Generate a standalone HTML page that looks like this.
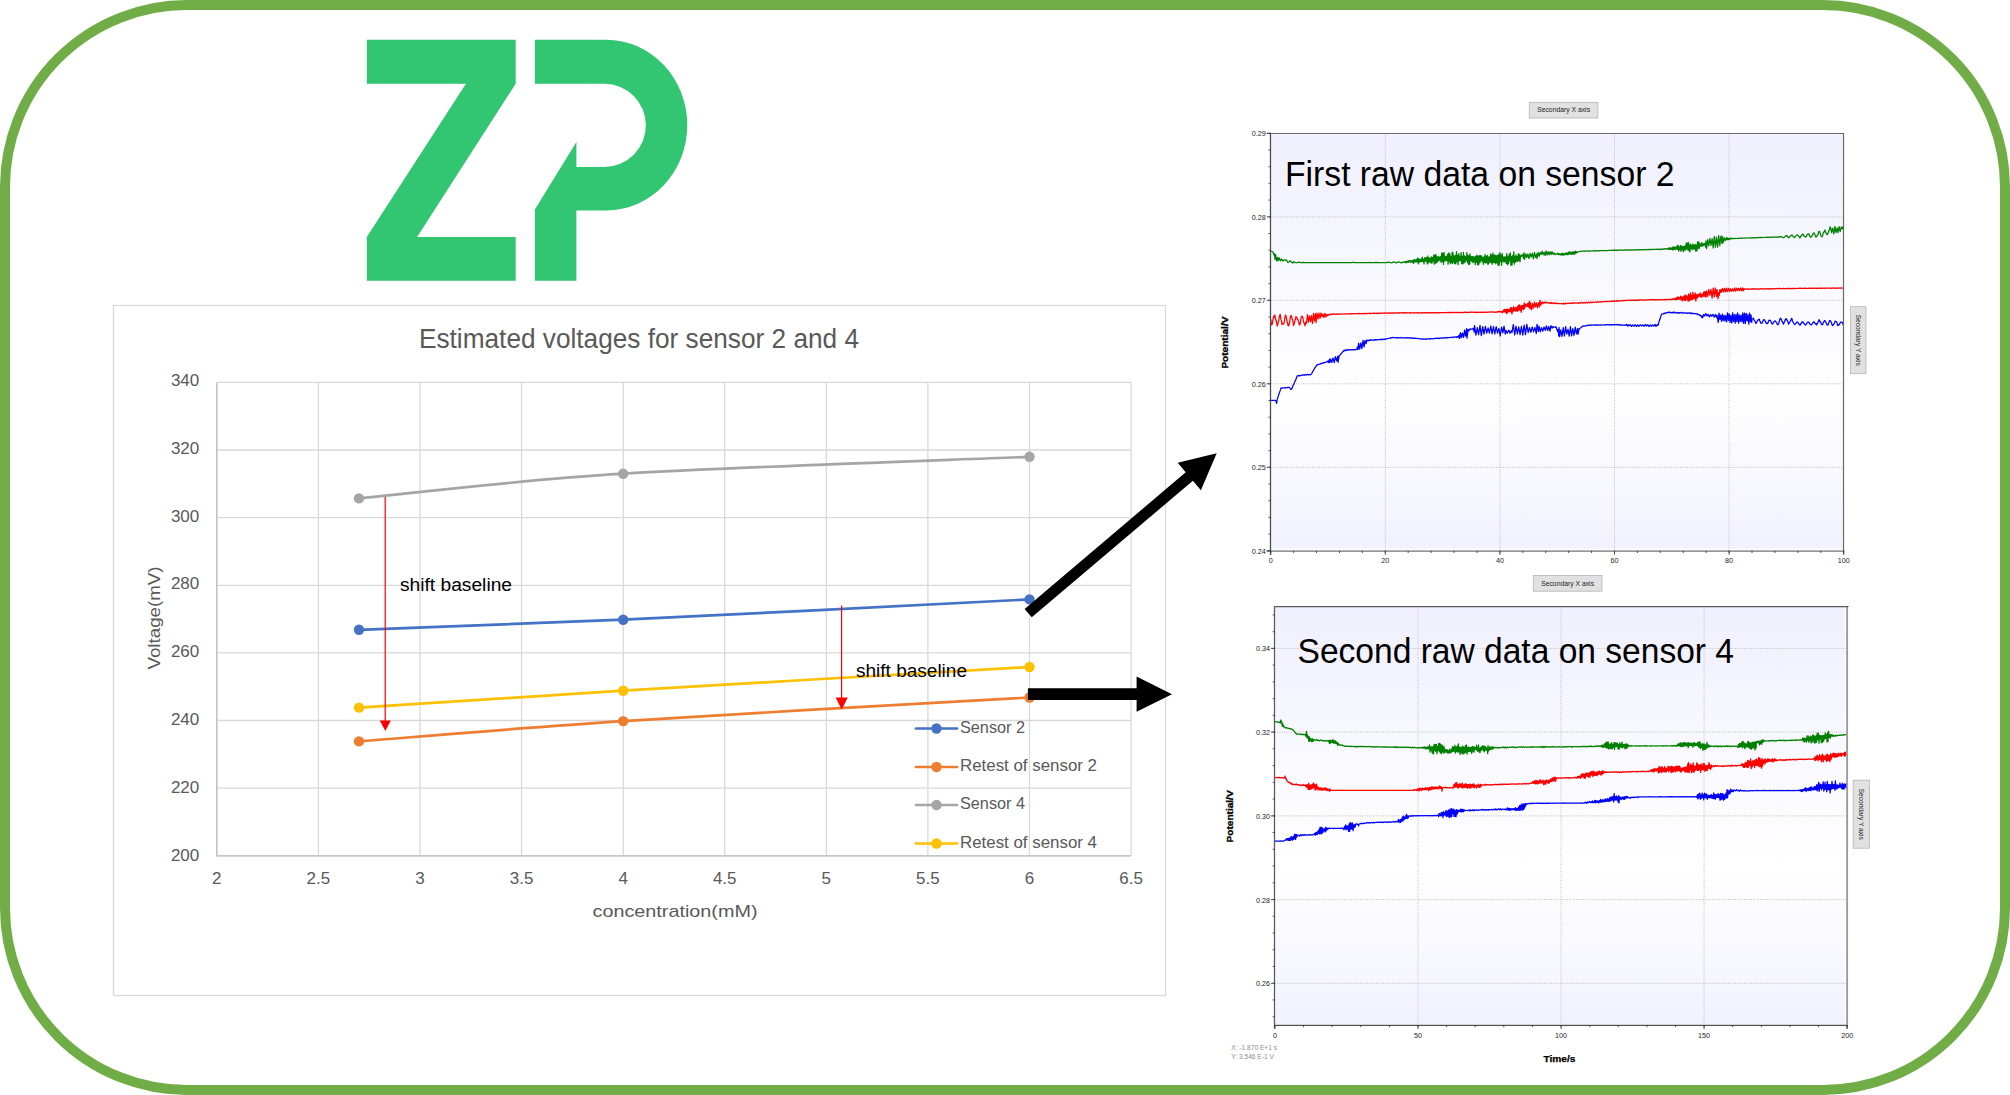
<!DOCTYPE html>
<html lang="en"><head><meta charset="utf-8"><title>Estimated voltages for sensor 2 and 4</title>
<style>html,body{margin:0;padding:0;background:#fff;}body{width:2010px;height:1095px;overflow:hidden;}svg{display:block;font-family:"Liberation Sans",sans-serif;}</style>
</head><body>
<svg width="2010" height="1095" viewBox="0 0 2010 1095">
<defs>
<linearGradient id="pg" x1="0" y1="0" x2="0" y2="1"><stop offset="0" stop-color="#f0f0fe"/><stop offset="0.62" stop-color="#ffffff"/><stop offset="1" stop-color="#f2f2fe"/></linearGradient>
</defs>
<rect width="2010" height="1095" fill="#fff"/>
<rect x="5" y="5" width="2000" height="1085" rx="182" ry="182" fill="none" stroke="#70AD47" stroke-width="10"/>
<g fill="#32C572">
<path d="M366.8 39.8H515.7V83.7L417.1 237.1H515.7V280.7H366.8V237.1L465.9 83.7H366.8Z"/>
<path d="M534.9 39.8H606.4A80.9 85.3 0 0 1 606.4 210.4H576.4V280.7H534.9V209.4L576.4 142.1V167H604.5A41.4 41.65 0 0 0 604.5 83.7H534.9Z"/>
</g>
<rect x="113.5" y="305.5" width="1052.0" height="690.0" fill="#fff" stroke="#D9D9D9" stroke-width="1.3"/>
<path d="M216.8 382.4V855.8M318.4 382.4V855.8M420 382.4V855.8M521.6 382.4V855.8M623.2 382.4V855.8M724.7 382.4V855.8M826.3 382.4V855.8M927.9 382.4V855.8M1029.5 382.4V855.8M1131.1 382.4V855.8M216.8 382.4H1131.1M216.8 450H1131.1M216.8 517.7H1131.1M216.8 585.3H1131.1M216.8 652.9H1131.1M216.8 720.5H1131.1M216.8 788.2H1131.1M216.8 855.8H1131.1" stroke="#D9D9D9" stroke-width="1.3" fill="none"/>
<path d="M216.8 382.4V855.8H1131.1" stroke="#BFBFBF" stroke-width="1.3" fill="none"/>
<text x="639" y="348.1" font-size="26.8" fill="#595959" text-anchor="middle" textLength="440" lengthAdjust="spacingAndGlyphs">Estimated voltages for sensor 2 and 4</text>
<g font-size="17" fill="#595959" text-anchor="end">
<text x="199.3" y="385.8" textLength="28.4" lengthAdjust="spacingAndGlyphs">340</text>
<text x="199.3" y="453.6" textLength="28.4" lengthAdjust="spacingAndGlyphs">320</text>
<text x="199.3" y="521.5" textLength="28.4" lengthAdjust="spacingAndGlyphs">300</text>
<text x="199.3" y="589.3" textLength="28.4" lengthAdjust="spacingAndGlyphs">280</text>
<text x="199.3" y="657.2" textLength="28.4" lengthAdjust="spacingAndGlyphs">260</text>
<text x="199.3" y="725" textLength="28.4" lengthAdjust="spacingAndGlyphs">240</text>
<text x="199.3" y="792.8" textLength="28.4" lengthAdjust="spacingAndGlyphs">220</text>
<text x="199.3" y="860.7" textLength="28.4" lengthAdjust="spacingAndGlyphs">200</text>
</g>
<g font-size="17" fill="#595959" text-anchor="middle">
<text x="216.8" y="884.2">2</text>
<text x="318.4" y="884.2">2.5</text>
<text x="420" y="884.2">3</text>
<text x="521.6" y="884.2">3.5</text>
<text x="623.2" y="884.2">4</text>
<text x="724.7" y="884.2">4.5</text>
<text x="826.3" y="884.2">5</text>
<text x="927.9" y="884.2">5.5</text>
<text x="1029.5" y="884.2">6</text>
<text x="1131.1" y="884.2">6.5</text>
</g>
<text x="675" y="917" font-size="17" fill="#595959" text-anchor="middle" textLength="165" lengthAdjust="spacingAndGlyphs">concentration(mM)</text>
<text transform="translate(159.5 618) rotate(-90)" font-size="17" fill="#595959" text-anchor="middle" textLength="103" lengthAdjust="spacingAndGlyphs">Voltage(mV)</text>
<path d="M359 498.4C403 494.3 511.4 480.6 623.2 473.7C734.9 466.8 961.8 459.6 1029.5 456.8" stroke="#A5A5A5" stroke-width="2.7" fill="none" stroke-linecap="round"/>
<circle cx="359" cy="498.4" r="5.2" fill="#A5A5A5"/>
<circle cx="623.2" cy="473.7" r="5.2" fill="#A5A5A5"/>
<circle cx="1029.5" cy="456.8" r="5.2" fill="#A5A5A5"/>
<path d="M359 629.8C403 628.2 511.4 624.8 623.2 619.7C734.9 614.6 961.8 602.8 1029.5 599.4" stroke="#4472C4" stroke-width="2.7" fill="none" stroke-linecap="round"/>
<circle cx="359" cy="629.8" r="5.2" fill="#4472C4"/>
<circle cx="623.2" cy="619.7" r="5.2" fill="#4472C4"/>
<circle cx="1029.5" cy="599.4" r="5.2" fill="#4472C4"/>
<path d="M359 707.6C403 704.8 511.4 697.5 623.2 690.7C734.9 683.9 961.8 671 1029.5 667" stroke="#FFC000" stroke-width="2.7" fill="none" stroke-linecap="round"/>
<circle cx="359" cy="707.6" r="5.2" fill="#FFC000"/>
<circle cx="623.2" cy="690.7" r="5.2" fill="#FFC000"/>
<circle cx="1029.5" cy="667" r="5.2" fill="#FFC000"/>
<path d="M359 741.4C403 738 511.4 728.5 623.2 721.1C734.9 713.8 961.8 701.4 1029.5 697.5" stroke="#ED7D31" stroke-width="2.7" fill="none" stroke-linecap="round"/>
<circle cx="359" cy="741.4" r="5.2" fill="#ED7D31"/>
<circle cx="623.2" cy="721.1" r="5.2" fill="#ED7D31"/>
<circle cx="1029.5" cy="697.5" r="5.2" fill="#ED7D31"/>
<path d="M916 728.5H957" stroke="#4472C4" stroke-width="2.7" stroke-linecap="round"/>
<circle cx="936.5" cy="728.5" r="5.2" fill="#4472C4"/>
<text x="960" y="732.8" font-size="16.5" fill="#595959" textLength="65" lengthAdjust="spacingAndGlyphs">Sensor 2</text>
<path d="M916 767H957" stroke="#ED7D31" stroke-width="2.7" stroke-linecap="round"/>
<circle cx="936.5" cy="767" r="5.2" fill="#ED7D31"/>
<text x="960" y="771.3" font-size="16.5" fill="#595959" textLength="137" lengthAdjust="spacingAndGlyphs">Retest of sensor 2</text>
<path d="M916 805H957" stroke="#A5A5A5" stroke-width="2.7" stroke-linecap="round"/>
<circle cx="936.5" cy="805" r="5.2" fill="#A5A5A5"/>
<text x="960" y="809.3" font-size="16.5" fill="#595959" textLength="65" lengthAdjust="spacingAndGlyphs">Sensor 4</text>
<path d="M916 843.5H957" stroke="#FFC000" stroke-width="2.7" stroke-linecap="round"/>
<circle cx="936.5" cy="843.5" r="5.2" fill="#FFC000"/>
<text x="960" y="847.8" font-size="16.5" fill="#595959" textLength="137" lengthAdjust="spacingAndGlyphs">Retest of sensor 4</text>
<g stroke="#FF0000" stroke-width="1.2" fill="#FF0000">
<path d="M385.2 497V721" fill="none"/><path d="M379.8 720.5H390.8L385.3 731Z" stroke="none"/>
<path d="M841.6 605.5V698" fill="none"/><path d="M835.6 697.5H847.8L841.7 709.5Z" stroke="none"/>
</g>
<text x="400" y="591" font-size="17.5" fill="#000" textLength="112" lengthAdjust="spacingAndGlyphs">shift baseline</text>
<text x="856" y="677" font-size="17.5" fill="#000" textLength="111" lengthAdjust="spacingAndGlyphs">shift baseline</text>
<path d="M1027.9 688.3H1136.6V676.6L1172 694.2L1136.6 711.8V700.1H1027.9Z" fill="#000"/>
<path d="M1031.8 617.3L1024.6 608.9L1185.7 472.3L1177.7 462.8L1216.7 453.3L1200.9 490.2L1192.9 480.7Z" fill="#000"/>
<rect x="1271.6" y="134.4" width="570.5" height="414.4" fill="url(#pg)"/>
<path d="M1270.7 216.9H1843.7M1270.7 300.3H1843.7M1270.7 383.8H1843.7M1270.7 467.3H1843.7M1385.3 133.3V550.8M1499.9 133.3V550.8M1614.5 133.3V550.8M1729.1 133.3V550.8" stroke="#b9b9b9" stroke-width="0.9" stroke-dasharray="1 1.3" fill="none"/>
<path d="M1270.7 251.1 L1273 252 L1274 255.1 L1274.6 253.8 L1275 259.4 L1275.6 254.6 L1276.7 260.8 L1277.8 257.3 L1278 260.7 L1279.1 257.8 L1280.3 260.8 L1281.6 258.8 L1282.8 261 L1284 259.9 L1285.8 260.1 L1286.2 259.8 L1286.8 260.5 L1287.2 261.6 L1287.8 262.4 L1288.2 262.3 L1288.8 262 L1289.2 261.9 L1289.8 260.9 L1290.2 261.2 L1290.8 261.2 L1292.2 262.7 L1292.8 263.1 L1293.5 261.9 L1294.5 262.1 L1295 262.4 L1296 262.7 L1297 262.8 L1298 262.2 L1299 262.2 L1299.5 262.3 L1300.5 262.7 L1301.5 262.7 L1303.5 262.4 L1305 262.6 L1352 262.6 L1353 262.3 L1353.9 262.3 L1355 262.6 L1359 262.6 L1361.7 262.6 L1362.6 262.5 L1363.5 262.6 L1364.4 262.5 L1365.3 262.6 L1366.2 262.5 L1367.1 262.6 L1368 262.5 L1368.9 262.6 L1369.8 262.4 L1370.7 262.7 L1371.6 262.5 L1372.5 262.6 L1373.4 262.5 L1374.3 262.6 L1375.2 262.4 L1376.1 262.7 L1377 262.4 L1377.9 262.6 L1378.8 262.5 L1379.7 262.6 L1380.6 262.5 L1381.5 262.6 L1382.4 262.5 L1383.3 262.6 L1384.2 262.5 L1385.1 262.7 L1386 262.5 L1386.9 262.7 L1387.9 262.4 L1388.4 262 L1389.4 262.2 L1390.4 262.7 L1390.9 262.9 L1391.9 262.7 L1393.4 262.2 L1393.9 261.9 L1395.9 262.8 L1396.4 262.9 L1397.4 262.3 L1398.4 261.9 L1398.9 261.9 L1400.9 262.8 L1401.4 262.9 L1401.9 262.5 L1402.5 262.4 L1403 261.8 L1403.9 262.6 L1404.8 261.7 L1405.7 262.6 L1406 261.3 L1406.6 262.9 L1407.2 261.1 L1407.7 262.2 L1408.3 260.9 L1408.9 262.2 L1409.5 260.6 L1410.1 262.1 L1410.6 260.7 L1411.2 262.1 L1411.8 260.5 L1412.4 262.3 L1413 260.4 L1413.5 263.4 L1414.1 259.3 L1414.7 261.9 L1415.3 259.9 L1415.9 262.1 L1416.4 259.5 L1417 261.7 L1417.6 258 L1418.2 263.9 L1418.8 258.9 L1419.3 262.3 L1419.9 259.5 L1420.5 261.5 L1421.1 258.9 L1421.7 261.7 L1422.2 257.2 L1422.8 261.4 L1423.4 259.1 L1424 263.9 L1424.6 257.8 L1425 261.3 L1425.6 257.6 L1426.2 261.1 L1426.7 257.5 L1427.3 264 L1427.9 256 L1428.5 262.8 L1429.1 258 L1429.6 261.6 L1430.2 258 L1430.8 263 L1431.4 256.8 L1432 263.1 L1432.5 257.3 L1433.1 261 L1433.7 255.2 L1434.3 264.1 L1434.9 254.8 L1435.4 263.1 L1436 254.7 L1436.6 262.8 L1437.2 257 L1437.8 261.7 L1438.3 256.4 L1438.9 260.2 L1439.5 257.1 L1440 260.7 L1440.6 256.5 L1441.2 262.5 L1441.7 253 L1442.3 261.4 L1442.9 253 L1443.5 264.4 L1444.1 252.7 L1444.6 261.1 L1445.2 256.3 L1445.8 260.6 L1446.4 256.3 L1447 260.6 L1447.5 254.3 L1448.1 264.2 L1448.7 252.9 L1449.3 261.7 L1449.9 253.9 L1450.4 263.6 L1451 256.3 L1451.6 262.8 L1452.2 252 L1452.8 263.6 L1453 253 L1453.6 261.8 L1454.2 256 L1454.7 263.7 L1455.3 255.4 L1455.9 263.8 L1456.5 251.7 L1457.1 261.4 L1457.6 255.3 L1458.2 264.7 L1458.8 253.6 L1459.4 260.6 L1460 256.4 L1460.5 260.6 L1461.1 252.6 L1461.7 263.7 L1462.3 256.5 L1462.9 263.9 L1463.4 252.3 L1464 262.8 L1464.6 255.9 L1465.2 262.2 L1465.8 256.7 L1466.3 260.4 L1466.9 252.6 L1467.5 262.8 L1468.1 255.3 L1468.7 264.5 L1469.2 255.8 L1469.8 264.1 L1470 253.8 L1470.6 260.9 L1471.2 256.6 L1471.7 261.2 L1472.3 256.6 L1472.9 262.6 L1473.5 256.6 L1474.1 261.8 L1474.6 257 L1475.2 264.6 L1475.8 256.2 L1476.4 262.1 L1477 255.2 L1477.5 264.7 L1478.1 256 L1478.7 264.8 L1479.3 255.6 L1479.9 262.6 L1480.4 255.5 L1481 260.8 L1481.6 255.9 L1482.2 261.2 L1482.8 257.3 L1483.3 264.3 L1483.9 256.9 L1484.5 262.5 L1485.1 254.3 L1485.7 262.9 L1486.2 256.4 L1486.8 262.8 L1487.4 255.3 L1488 264.4 L1488.6 257.2 L1489.1 263.1 L1489.7 256.7 L1490 261.8 L1490.6 254 L1491.2 262.8 L1491.7 255.2 L1492.3 264.3 L1492.9 253 L1493.5 262.4 L1494.1 254.9 L1494.6 262.7 L1495.2 255.4 L1495.8 263.8 L1496.4 255.7 L1497 262.8 L1497.5 255.5 L1498.1 265.4 L1498.7 254.3 L1499.3 264.9 L1499.9 252.6 L1500.4 261.5 L1501 255 L1501.6 265.3 L1502.2 253.3 L1502.8 261 L1503.3 256.8 L1503.9 262.2 L1504.5 256.9 L1505.1 261.3 L1505.7 256.9 L1506.2 263.4 L1506.8 253.5 L1507.4 264.8 L1508 256.6 L1508.6 263.6 L1509.1 254.3 L1509.7 260.9 L1510.3 252.8 L1510.9 265.3 L1511.5 256.3 L1512 265.1 L1512.6 255.6 L1513.2 262.2 L1513.8 251.9 L1514.4 264.2 L1514.9 256.4 L1515.5 261.9 L1516.1 254.9 L1516.7 261.4 L1517.3 256.3 L1517.8 261.3 L1518.4 253.7 L1519 260.4 L1519.6 254.6 L1520 261.8 L1520.6 255.9 L1521.2 256.6 L1521.5 254.8 L1522.4 256.1 L1523 254.6 L1523.6 258.5 L1524 252.6 L1524.6 259.3 L1525.7 253.8 L1526.8 257.5 L1527.9 254 L1529 258.7 L1530.1 253.5 L1531.2 257.1 L1532.3 253.2 L1533.4 258.8 L1534.5 252.4 L1535.6 257.3 L1536.7 253.9 L1537 258.7 L1538.1 252.5 L1539.2 256.3 L1540 252.4 L1541.1 254.5 L1542.1 251.2 L1543.1 254.9 L1544.1 252.1 L1545.1 255.5 L1546.1 251 L1547.1 255 L1548.1 251.7 L1549.1 254.9 L1550.1 251.6 L1551 254.7 L1552 251.6 L1553 254.4 L1554 252.8 L1555 254.7 L1555.9 253.8 L1556.8 254.2 L1557.7 253.2 L1558.3 254.7 L1558.9 253.7 L1559.4 254.7 L1560 253.8 L1560.6 254.9 L1561.2 253.7 L1561.8 255.1 L1562.3 253.1 L1562.9 255.2 L1563 253.6 L1563.6 255 L1564.2 253.6 L1564.7 254.7 L1565.3 253.5 L1565.9 254.5 L1566.5 252.6 L1567.1 254.8 L1567.6 253.1 L1568.2 254.5 L1568.8 251.9 L1569.4 254 L1570 251.9 L1570.5 254.1 L1571.1 252.2 L1571.7 254.5 L1572.3 252.2 L1572.9 253.8 L1573.4 251.6 L1574 254.4 L1574.6 251.8 L1575 253.9 L1575.6 251.2 L1576.2 253.2 L1576.7 251.9 L1577.6 252.1 L1578.5 251.6 L1579.4 251.6 L1580.3 251.3 L1581 251.4 L1581.9 251.1 L1582.8 251.2 L1583.7 251.1 L1584.6 251.4 L1585.5 250.8 L1586.4 251.2 L1587.3 251 L1588.2 251.1 L1589.1 250.9 L1590 251.1 L1590.9 250.9 L1591.8 251 L1592.7 250.8 L1593.6 251.2 L1594.5 250.5 L1595.4 250.9 L1596.3 250.7 L1597.2 251 L1598.1 250.7 L1599 250.8 L1599.9 250.6 L1600.8 250.7 L1601.7 250.5 L1602.6 250.7 L1603.5 250.5 L1604.4 250.7 L1605.3 250.5 L1606.2 250.6 L1607.1 250.5 L1608 250.5 L1608.9 250.4 L1609.8 250.4 L1610.7 250.3 L1611.6 250.4 L1612.5 250.2 L1613.4 250.4 L1614 250.2 L1614.9 250.4 L1615.8 250.1 L1616.7 250.4 L1617.6 250.2 L1618.5 250.3 L1619.4 249.9 L1620.3 250.2 L1621.2 250 L1622.1 250.2 L1623 250.1 L1623.9 250.3 L1624.8 249.9 L1625.7 250.2 L1626.6 249.9 L1627.5 250.2 L1628.4 249.9 L1629.3 250.1 L1630.2 249.8 L1631.1 250.1 L1632 249.7 L1632.9 250.1 L1633.8 249.7 L1634.7 250.1 L1635.6 249.7 L1636.5 249.9 L1637.4 249.7 L1638.3 249.8 L1639.2 249.7 L1640.1 249.8 L1641 249.7 L1641.9 249.9 L1642.8 249.5 L1643.7 249.8 L1644.6 249.5 L1645.5 249.8 L1646.4 249.5 L1647.3 249.6 L1648.2 249.3 L1649.1 249.7 L1650 249.4 L1650.9 249.6 L1651.8 249.3 L1652.7 249.5 L1653.6 249.2 L1654.5 249.5 L1655.4 249.3 L1656.3 249.4 L1657.2 249.2 L1658.1 249.4 L1659 249.1 L1659.9 249.6 L1660.8 249.1 L1661.7 249.3 L1662.6 248.9 L1663.5 249.4 L1664.4 248.6 L1665.3 249.4 L1666.2 248.5 L1667.1 249.1 L1668 248.4 L1668.6 249.4 L1669.2 247.6 L1669.7 249.5 L1670 247.8 L1670.6 249.3 L1671.2 248.2 L1671.7 249.4 L1672.3 247.2 L1672.9 250.1 L1673.5 247 L1674.1 249.4 L1674.6 247.1 L1675.2 249.7 L1675.8 247 L1676.4 249.2 L1677 245.8 L1677.5 249.3 L1678.1 245.2 L1678.7 251.1 L1679.3 247.2 L1679.9 249.7 L1680.4 245.3 L1681 251.4 L1681.6 246.1 L1682.2 249.3 L1682.7 246.5 L1683.3 251.6 L1683.9 246.2 L1684.5 250.2 L1685.1 246.2 L1685.6 250 L1686.2 242.9 L1686.8 248.9 L1687.4 243.2 L1688 250 L1688.5 242.5 L1689.1 250.9 L1689.7 245.1 L1690 252 L1690.6 244 L1691.2 248.5 L1691.7 245.4 L1692.3 249.8 L1692.9 244 L1693.5 249 L1694.1 245 L1694.6 249.1 L1695.2 244.4 L1695.8 251.3 L1696.4 245.1 L1697 250.8 L1697.5 241.9 L1698 248.2 L1698.6 241.9 L1699.2 248.6 L1699.7 243.2 L1700 246.4 L1700.6 244.3 L1701.2 246.2 L1701.7 242.6 L1702.3 246.2 L1702.9 243.6 L1703.5 245.6 L1704.1 243.4 L1704.6 244.8 L1705 243.3 L1705.6 247 L1706 240.8 L1706.6 248.7 L1707.7 239.6 L1708.8 245.9 L1709.9 238.3 L1711 245.3 L1712.1 238.6 L1713.2 247.9 L1714.3 236.4 L1715.4 247.1 L1716.5 237.1 L1717.6 247.2 L1718.7 235.6 L1719.8 245.6 L1720.9 236.2 L1722 243.4 L1722 236 L1723.1 242.8 L1724 237.5 L1725.1 240.8 L1725.7 238.5 L1726.3 239.8 L1726.8 237.4 L1727.4 239.7 L1728 238.2 L1728.6 239.7 L1729.2 238.4 L1729.7 239.5 L1730.6 238 L1731.5 238.9 L1732 238.3 L1732.9 238.8 L1733.8 238.3 L1734.7 238.7 L1735.6 238.4 L1736.5 238.5 L1737.4 238.3 L1738.3 238.6 L1739.2 238.2 L1740 238.2 L1740.9 238 L1741.8 238.4 L1742.7 238 L1743.6 238.1 L1744.5 238 L1745.4 238.1 L1746.3 237.9 L1747.2 238 L1748.1 237.9 L1749 238 L1749.9 237.8 L1750.8 238.1 L1751.7 237.7 L1752.6 237.9 L1753.5 237.7 L1754.4 237.8 L1755.3 237.6 L1756.2 237.8 L1757.1 237.6 L1758 237.7 L1758.9 237.3 L1759.8 237.6 L1760.7 237.4 L1761.6 237.6 L1762.5 237.3 L1763.4 237.5 L1764.3 237.4 L1765.2 237.5 L1766.1 237.3 L1767 237.4 L1767.9 237.1 L1768.8 237.5 L1769.7 237 L1770.6 237.3 L1771.5 237.2 L1772.4 237.3 L1773.3 236.9 L1774.2 237.2 L1775.1 237 L1776 237.1 L1776.9 237 L1777.8 237.3 L1778 236.8 L1778.9 237.2 L1779.8 236.5 L1780.7 237 L1781.6 236.7 L1782 236.9 L1782.9 237.5 L1783.4 237.7 L1783.9 237.7 L1784.9 236.6 L1785.9 235.7 L1786.9 235.6 L1787.4 236.6 L1787.9 236.8 L1788.4 237.7 L1788.9 237.7 L1789.4 237.2 L1790.4 236 L1791.4 235.4 L1791.9 234.9 L1792.4 235.2 L1792.9 236.2 L1793.4 236.9 L1793.9 237.3 L1794.9 237.4 L1795.4 236.3 L1796.4 235.2 L1796.9 235.2 L1797.4 234.9 L1797.9 235.6 L1798.4 235.9 L1799.4 237 L1799.9 238 L1800.5 236.9 L1801 235.9 L1801.5 235.5 L1802.5 234.2 L1803 234.1 L1804 236.2 L1804.5 236.3 L1805.5 237.1 L1806 236.8 L1806.5 236.3 L1807 234.7 L1807.5 234.5 L1808 234 L1808.5 233.8 L1809 234.1 L1809.5 236 L1810 236.1 L1810.5 237.4 L1811 236.8 L1811.5 236.3 L1812 236.1 L1812.5 234.4 L1813 234.3 L1813.5 233.2 L1814 232.8 L1814.5 233.6 L1815.5 236.2 L1816 237.3 L1816.5 236.3 L1817 236.1 L1817.5 234.7 L1818 234.6 L1818.5 232.2 L1819 231.4 L1819.5 231.4 L1820 232.7 L1820.5 234.6 L1821 235.8 L1822 236.9 L1822.5 236.2 L1823 233.9 L1823.5 232.2 L1824 232.2 L1825 230 L1825.5 232 L1826 232.8 L1826.5 234 L1827 234.7 L1827.5 234.4 L1828.5 232.1 L1829 230.3 L1829.5 229.9 L1830 227 L1830.5 227.1 L1831.6 232.7 L1832.7 228.1 L1833.8 234 L1834.9 226.3 L1836 232.7 L1837.1 227.9 L1838 232.6 L1839.1 226.7 L1840.2 231.6 L1841.3 227 L1842.4 228.8 L1843.3 226.3" stroke="#008000" stroke-width="1.25" fill="none" stroke-linejoin="round"/>
<path d="M1270.7 319.2 L1271.2 322.4 L1271.7 324.8 L1272.2 324.5 L1272.7 320.9 L1273.7 316.4 L1274.2 317.3 L1274.7 314.9 L1275.7 319.8 L1276.2 320.6 L1276.7 322.6 L1277.2 326 L1277.7 324.7 L1278.2 322.1 L1278.7 321.2 L1279.2 317.5 L1279.7 315.6 L1280.2 314.3 L1280.7 317.7 L1281 319.4 L1281.5 320.9 L1282 324.4 L1282.5 323.2 L1283 324.2 L1283.5 323.9 L1284 323.3 L1284.5 320.7 L1285 316.7 L1285.5 315.1 L1286 316.1 L1286.5 318 L1287 321.9 L1287.5 322 L1288 325.7 L1288.5 325.8 L1289 325 L1289.5 322.7 L1290.5 316.5 L1291 315.4 L1291.5 315.9 L1292 318.9 L1292.5 319.1 L1293 322 L1293.5 325.5 L1294 324.2 L1294.5 322.6 L1295 320.3 L1295.5 319.4 L1296 316.5 L1296.5 317.5 L1297 317.6 L1297.5 319.6 L1298 319.7 L1298.5 321.6 L1299.5 325 L1300 324.7 L1300.5 321.6 L1301 318.2 L1301.5 316.6 L1302 316.1 L1302.5 316.6 L1303 318.5 L1303.5 321.4 L1304 323.3 L1304.5 323.2 L1305 325.9 L1305.5 323 L1306 321.6 L1306.5 323.4 L1307.5 314.7 L1308.5 322.1 L1309.5 315.9 L1310.5 321.7 L1311.5 315.6 L1312.5 323.4 L1313.5 313.5 L1314.5 320.8 L1315.5 313.6 L1316 322.7 L1317 313.2 L1318 318.8 L1319 313 L1320 318.3 L1321 313 L1322 316.9 L1323 313.9 L1324 317.5 L1325 313.4 L1326 317 L1327 314.3 L1328 315.5 L1328.6 314.6 L1329.5 314.8 L1330.4 313.9 L1331.3 314.7 L1332.2 313.9 L1333 314.3 L1333.9 313.9 L1334.8 314.3 L1335.7 314.1 L1336.6 314.4 L1337.5 313.8 L1338.4 314.1 L1339.3 313.9 L1340.2 314.2 L1341.1 314 L1342 314.1 L1342.9 313.9 L1343.8 314 L1344.7 313.9 L1345.6 314.1 L1346.5 313.7 L1347.4 314 L1348.3 313.8 L1349.2 313.9 L1350.1 313.6 L1351 313.9 L1351.9 313.7 L1352.8 313.8 L1353.7 313.5 L1354.6 313.9 L1355.5 313.7 L1356.4 313.7 L1357.3 313.6 L1358.2 313.8 L1359.1 313.4 L1360 313.7 L1360.9 313.5 L1361.8 313.8 L1362.7 313.4 L1363.6 313.6 L1364.5 313.4 L1365.4 313.8 L1366.3 313.4 L1367.2 313.6 L1368.1 313.3 L1369 313.5 L1369.9 313.1 L1370.8 313.8 L1371.7 313.3 L1372.6 313.4 L1373.5 313.1 L1374.4 313.4 L1375.3 313.2 L1376.2 313.6 L1377.1 313.1 L1378 313.5 L1378.9 313.1 L1379.8 313.5 L1380.7 313 L1381.6 313.2 L1382.5 313.1 L1383.4 313.3 L1384.3 312.9 L1385.2 313.4 L1386.1 313 L1387 313.2 L1387.9 312.9 L1388 313.1 L1388.9 312.9 L1389.8 313.1 L1390.7 312.8 L1391.6 313.3 L1392.5 312.9 L1393.4 313.1 L1394.3 312.7 L1395.2 313.3 L1396.1 312.9 L1397 313 L1397.9 312.6 L1398.8 313.3 L1399.7 312.8 L1400.6 313 L1401.5 312.6 L1402.4 313 L1403.3 312.6 L1404.2 313.1 L1405.1 312.6 L1406 313 L1406.9 312.7 L1407.8 312.9 L1408.7 312.8 L1409.6 313.1 L1410.5 312.6 L1411.4 312.9 L1412.3 312.8 L1413.2 313 L1414.1 312.7 L1415 312.9 L1415.9 312.8 L1416.8 312.9 L1417.7 312.6 L1418.6 313.1 L1419.5 312.8 L1420.4 313 L1421.3 312.6 L1422.2 312.8 L1423.1 312.6 L1424 312.8 L1424.9 312.6 L1425.8 312.9 L1426.7 312.6 L1427.6 312.8 L1428.5 312.7 L1429.4 312.9 L1430.3 312.7 L1431.2 312.9 L1432.1 312.6 L1433 312.8 L1433.9 312.7 L1434.8 312.9 L1435.7 312.6 L1436.6 312.8 L1437.5 312.5 L1438.4 312.9 L1439.3 312.6 L1440 312.8 L1440.9 312.6 L1441.8 312.7 L1442.7 312.6 L1443.6 312.7 L1444.5 312.6 L1445.4 312.7 L1446.3 312.5 L1447.2 312.7 L1448.1 312.4 L1449 312.6 L1449.9 312.4 L1450.8 312.8 L1451.7 312.4 L1452.6 312.6 L1453.5 312.4 L1454.4 312.6 L1455.3 312.2 L1456.2 312.6 L1457.1 312.2 L1458 312.8 L1458.9 312.3 L1459.8 312.7 L1460.7 312.4 L1461.6 312.8 L1462.5 312.3 L1463.4 312.7 L1464.3 312.1 L1465.2 312.4 L1466.1 312.1 L1467 312.7 L1467.9 312.3 L1468.8 312.4 L1469.7 312.1 L1470.6 312.4 L1471.5 312 L1472.4 312.4 L1473.3 312 L1474.2 312.3 L1475.1 312.1 L1476 312.6 L1476.9 312.2 L1477.8 312.3 L1478.7 312.1 L1479.6 312.3 L1480.5 312.2 L1481.4 312.3 L1482.3 312.1 L1483.2 312.5 L1484.1 312 L1485 312.5 L1485.9 312.1 L1486.8 312.4 L1487.7 312.1 L1488.6 312.2 L1489.5 311.9 L1490.4 312.2 L1491.3 311.8 L1492.2 312.2 L1493.1 311.9 L1494 312.3 L1494.9 312 L1495.8 312.4 L1496.7 311.8 L1497 312.1 L1497.9 311.6 L1498.8 312 L1499.7 311.1 L1500.6 312.1 L1501.5 311.4 L1502.4 312.8 L1503 310.6 L1503 312.1 L1503.6 310 L1504.2 311.9 L1504.7 309.4 L1505.3 312 L1505.9 309.3 L1506.5 313.7 L1507.1 309 L1507.6 312.8 L1508.2 309.3 L1508.8 311.5 L1509.4 309.4 L1510 311.6 L1510.5 307.7 L1511.1 312.2 L1511.7 307.7 L1512 314 L1512.6 308.5 L1513.2 311.3 L1513.7 306.5 L1514.3 310.6 L1514.9 307.9 L1515.5 311.1 L1516.1 307.5 L1516.6 310.8 L1517.2 306.9 L1517.8 311.3 L1518.4 305.3 L1519 309.8 L1519.5 304.8 L1520.1 310.4 L1520.7 306.1 L1521.3 312.3 L1521.9 305.4 L1522.4 308.8 L1523 305.4 L1523.6 309.6 L1524.2 302.8 L1524.7 308.3 L1525.3 304.3 L1525.9 305.8 L1526 304.5 L1526.6 306.5 L1527.2 303.6 L1527.7 306.5 L1528.3 303 L1528.9 307.3 L1529.5 301.4 L1530 308.9 L1530.6 302.9 L1531.6 309.6 L1532.6 303.3 L1533.6 308.1 L1534.6 302.1 L1535.6 306.9 L1536.6 302.8 L1537.6 307.9 L1538.6 302.7 L1539.6 306.9 L1540 300.3 L1541 304.9 L1542 301.9 L1543 303.6 L1544 302.2 L1544.9 303 L1545.8 302 L1546.7 302.8 L1547.6 302.6 L1548.5 303 L1549.4 302.7 L1550.3 303.6 L1551.2 302.4 L1552 303.4 L1552.9 303 L1553.8 303.7 L1554.7 302.8 L1555.6 303.5 L1556.5 303 L1557.4 303.7 L1558.3 303.4 L1559.2 303.7 L1560 303.6 L1560.9 303.7 L1561.8 303.5 L1562.7 304 L1563.6 303.2 L1564.5 304 L1565.4 303.1 L1566.3 303.6 L1567.2 303.2 L1568.1 303.6 L1569 303 L1569.9 303.5 L1570.8 303.2 L1571.7 303.5 L1572.6 302.7 L1573.5 303.3 L1574.4 302.7 L1575.3 303.2 L1576.2 303 L1577.1 303.1 L1578 302.7 L1578.9 303.5 L1579.8 302.6 L1580.7 303 L1581.6 302.4 L1582.5 302.9 L1583 302.7 L1583.9 303.2 L1584.8 302.4 L1585.7 302.9 L1586.6 302.3 L1587.5 303.1 L1588.4 302.3 L1589.3 302.8 L1590.2 302.1 L1591.1 302.8 L1592 302.2 L1592.9 302.6 L1593.8 302 L1594.7 302.3 L1595.6 302 L1596.5 302.3 L1597.4 301.9 L1598.3 302.4 L1599.2 301.8 L1600.1 301.9 L1601 301.7 L1601.9 302.2 L1602.8 301.6 L1603.7 301.7 L1604.6 301.6 L1605.5 301.6 L1606.4 301.2 L1607.3 301.7 L1608.2 301.2 L1609.1 301.7 L1610 301.3 L1610.9 301.5 L1611.8 301.1 L1612.7 301.5 L1613.6 300.8 L1614.5 301.5 L1615.4 301 L1616.3 301.4 L1617.2 300.5 L1618.1 301.3 L1619 300.8 L1619.9 300.9 L1620.8 300.7 L1621.7 300.8 L1622.6 300.3 L1623.5 300.9 L1624.4 300.3 L1625.3 300.8 L1626.2 300.2 L1627 300.5 L1627.9 300.3 L1628.8 300.4 L1629.7 300 L1630.6 300.4 L1631.5 300.2 L1632.4 300.4 L1633.3 300.2 L1634.2 300.3 L1635.1 300.1 L1636 300.5 L1636.9 300.1 L1637.8 300.3 L1638.7 299.7 L1639.6 300.3 L1640.5 299.7 L1641.4 300.3 L1642.3 300 L1643.2 300.2 L1644.1 299.9 L1645 300.3 L1645.9 299.8 L1646.8 300.2 L1647.7 299.7 L1648.6 300 L1649.5 299.5 L1650.4 299.9 L1651.3 299.5 L1652.2 299.9 L1653.1 299.7 L1654 299.9 L1654.9 299.5 L1655.8 300.2 L1656.7 299.6 L1657.6 299.8 L1658.5 299.5 L1659.4 300 L1660.3 299.5 L1661.2 299.8 L1662.1 299.5 L1663 299.9 L1663.9 299.5 L1664.8 299.9 L1665.7 299.4 L1666.6 299.6 L1667.5 299.2 L1668.4 299.6 L1669.3 299.3 L1670 299.6 L1670.9 299.2 L1671.8 299.7 L1672.7 298.7 L1673.6 299.6 L1674.5 298.5 L1675.4 299.6 L1676 298.1 L1676.6 299.6 L1677.1 297.1 L1677.7 299.3 L1678.3 296.8 L1678.9 299.2 L1679.5 297.8 L1680 299.4 L1680.6 296.2 L1681.2 299.7 L1681.7 297 L1682.3 300.8 L1682.9 296.9 L1683.5 299.7 L1684.1 295.9 L1684.6 300.6 L1685.2 294.8 L1685.8 300.3 L1686.4 295.8 L1687 299.2 L1687.5 295.9 L1688.1 301.2 L1688.7 293.9 L1689.3 300.8 L1689.9 295.3 L1690 299.6 L1690.6 292.9 L1691.2 300 L1691.7 295.3 L1692.3 299.5 L1692.9 292.2 L1693.5 298.6 L1694.1 294.9 L1694.6 298.7 L1695.2 292.9 L1695.8 301 L1696.4 294.9 L1697 298.2 L1697 294.6 L1697.6 298 L1698.2 294 L1698.7 296.5 L1699 294.5 L1699.6 296.2 L1700.2 292.9 L1700.7 296.9 L1701.3 294.3 L1701.9 297.3 L1702.5 294.1 L1703.1 295.8 L1703.6 292.1 L1704 296.5 L1704.6 291.6 L1705.2 296.1 L1705.7 291.8 L1706 297.3 L1706.6 290.8 L1707.7 296.4 L1708.8 289.5 L1709.9 295.5 L1711 289.3 L1712.1 298.2 L1713.2 288 L1714.3 296.9 L1715.4 288 L1716.5 296.5 L1717 289.7 L1718.1 298.6 L1718.7 292.7 L1719.3 295.5 L1719.8 289.6 L1720 292.6 L1720.6 289.8 L1721.2 292.4 L1721.7 289.4 L1722 291 L1722.6 288.5 L1723.6 292.2 L1724.6 288.4 L1725.6 291.8 L1726.6 288.2 L1727.6 291.7 L1728.6 288.4 L1729.6 291.3 L1730.6 288.7 L1731.6 291.4 L1732.6 288.9 L1733.6 291 L1734.6 288 L1735.6 291.2 L1736.6 288.1 L1737.6 290.6 L1738.6 288.3 L1739.6 290.7 L1740.6 288 L1741.6 290.5 L1742.6 287.9 L1743 291 L1744 288.6 L1745 289.6 L1746 288.8 L1746.9 289.2 L1747.8 288.9 L1748.7 289.4 L1749.6 289 L1750.5 289.2 L1751.4 288.9 L1752.3 289.2 L1753.2 288.6 L1754.1 289.1 L1755 288.9 L1755.9 289.1 L1756.8 288.8 L1757.7 289.1 L1758.6 288.8 L1759.5 289.1 L1760.4 288.6 L1761.3 289 L1762.2 288.7 L1763.1 289.2 L1764 288.7 L1764.9 289 L1765.8 288.7 L1766.7 289 L1767.6 288.7 L1768.5 289.1 L1769.4 288.6 L1770.3 288.8 L1771.2 288.6 L1772.1 288.8 L1773 288.6 L1773.9 288.8 L1774.8 288.5 L1775.7 288.8 L1776.6 288.5 L1777.5 288.7 L1778 288.5 L1778.9 288.8 L1779.8 288.2 L1780.7 288.7 L1781.6 288.5 L1782.5 288.8 L1783.4 288.4 L1784.3 288.6 L1785.2 288.5 L1786.1 288.8 L1787 288.3 L1787.9 288.7 L1788.8 288.4 L1789.7 288.6 L1790.6 288.4 L1791.5 288.8 L1792.4 288.4 L1793.3 288.6 L1794.2 288.2 L1795.1 288.7 L1796 288.3 L1796.9 288.5 L1797.8 288.3 L1798.7 288.5 L1799.6 288.1 L1800.5 288.5 L1801.4 288.1 L1802.3 288.4 L1803.2 288.3 L1804.1 288.4 L1805 288.2 L1805.9 288.4 L1806.8 288.3 L1807.7 288.5 L1808.6 288.2 L1809.5 288.4 L1810.4 288.2 L1811.3 288.4 L1812.2 288.2 L1813.1 288.4 L1814 288.1 L1814.9 288.3 L1815.8 288 L1816.7 288.5 L1817.6 288.2 L1818.5 288.5 L1819.4 287.9 L1820.3 288.4 L1821.2 288.2 L1822.1 288.4 L1823 288 L1823.9 288.2 L1824.8 288.1 L1825.7 288.5 L1826.6 288 L1827.5 288.2 L1828.4 288.1 L1829.3 288.2 L1830.2 288.1 L1831.1 288.3 L1832 288 L1832.9 288.1 L1833.8 287.8 L1834.7 288.3 L1835.6 288 L1836.5 288.3 L1837.4 287.9 L1838.3 288.3 L1839.2 287.9 L1840.1 288.3 L1841 287.8 L1841.9 288.2 L1842.8 288 L1843.3 288.2" stroke="#FF0000" stroke-width="1.25" fill="none" stroke-linejoin="round"/>
<path d="M1270.7 400.4 L1275.6 400.4 L1276.6 403.3 L1277.3 399 L1278.3 396.1 L1279.2 393.3 L1280.1 390.9 L1281 387.8 L1281.9 388.3 L1282.8 387.9 L1283.7 388 L1284.6 387.7 L1285.5 387.8 L1286.4 387.5 L1287.3 387.6 L1288.2 387.3 L1289 387.4 L1289.9 388 L1290.8 389.4 L1291.5 389.1 L1292.4 387.6 L1293 385.5 L1293.9 384.1 L1294.8 381.6 L1295.7 380.1 L1296.6 377.2 L1297.5 375.8 L1298.4 375.4 L1299.3 376 L1300.2 375.3 L1301.1 375.6 L1302 375 L1302.9 375.2 L1303.8 374.9 L1304.7 375.3 L1305.6 374.5 L1306.5 375 L1307.4 374.4 L1308.3 374.9 L1309.2 374.5 L1310.1 374.9 L1311 374.4 L1311.9 373.3 L1312.8 371.3 L1313.7 370.2 L1314.6 368.1 L1315.5 367.3 L1316.4 365.4 L1316.6 365.6 L1317.5 364.5 L1318.4 364.7 L1319.3 364.1 L1320.2 364.1 L1321.1 363.3 L1322 363.6 L1322.9 362.8 L1323.8 363.1 L1324.7 362.3 L1325.6 362.4 L1326.5 361.8 L1327.4 361.9 L1328 360.8 L1328.9 362.6 L1329.5 359.1 L1330 362.3 L1330.6 359 L1331.8 362.4 L1333 357.8 L1334.2 362.6 L1335.4 356.7 L1336.6 360.8 L1337.8 356.1 L1338 362.3 L1339.2 355.7 L1340.1 355.1 L1341 353.8 L1341.9 353 L1342.8 351.7 L1343.7 351.5 L1344 350.1 L1344.9 350.7 L1345.8 349.8 L1346.7 350.5 L1347.6 349.7 L1348 350 L1348.9 349.6 L1349.8 350 L1350.7 349.6 L1351.6 349.9 L1352.5 349.6 L1353.4 349.9 L1354.3 349.5 L1355.2 349.9 L1356 349.5 L1356.9 349.1 L1357.5 346.9 L1358 349.7 L1358.6 343.2 L1359.7 349.1 L1360.8 342.9 L1361.9 348.6 L1363 340.3 L1364.1 346.9 L1365 340.4 L1366.1 343.7 L1367 339.9 L1368.1 340.9 L1369 340.2 L1369.9 340.5 L1370 339.7 L1370.9 340.2 L1371.8 339.9 L1372.7 340.1 L1373.6 339.9 L1374.5 340.3 L1375.4 339.6 L1376.3 340.2 L1377.2 339.6 L1378.1 339.7 L1379 339.5 L1379.9 339.8 L1380.8 339.1 L1381.7 339.9 L1382.6 339.2 L1383.5 339.5 L1384 339.2 L1384.9 339.4 L1385.8 338.9 L1386.7 338.9 L1387.6 338.6 L1388.5 338.5 L1389.4 338.1 L1390.3 338.2 L1391.2 337.6 L1392.1 337.8 L1393 337.3 L1393.9 337.7 L1394.8 337.6 L1395.7 337.9 L1396.6 337.6 L1397.5 337.9 L1398.4 337.6 L1399.3 337.8 L1400.2 337.5 L1401.1 338 L1402 337.5 L1402.9 338 L1403.8 337.8 L1404.7 338 L1405.6 337.6 L1406.5 338 L1407.4 337.6 L1408.3 338 L1409.2 337.6 L1410.1 338.2 L1411 337.9 L1411.9 338.1 L1412 337.8 L1412.9 338.4 L1413.8 338.1 L1414.7 338.4 L1415.6 338.1 L1416.5 338.5 L1417.4 338.3 L1418.3 338.7 L1419.2 338.7 L1420.1 338.9 L1421 338.8 L1421.9 339.1 L1422.8 338.9 L1423.7 339.2 L1424 339 L1424.9 339.2 L1425.8 338.9 L1426.7 339.2 L1427.6 338.9 L1428.5 339 L1429.4 338.6 L1430.3 339.1 L1431.2 338.5 L1432.1 338.8 L1433 338.6 L1433.9 338.6 L1434.8 338.2 L1435.7 338.7 L1436.6 338.1 L1437.5 338.4 L1438.4 338.1 L1439.3 338.6 L1440.2 337.9 L1441.1 338.3 L1442 338 L1442.9 338.1 L1443 337.7 L1443.9 338 L1444.8 337.7 L1445.7 338 L1446.6 337.4 L1447.5 338 L1448.4 337.5 L1449.3 337.6 L1450.2 337.4 L1451.1 337.5 L1452 337.2 L1452.9 337.6 L1453.8 336.9 L1454.7 337.2 L1455.6 336.8 L1456.5 337.4 L1457 336.6 L1457.9 337.1 L1458.8 335.6 L1459.4 338.3 L1460 333.7 L1460 338 L1460.6 332.7 L1461.6 337.4 L1462.6 333.2 L1463.6 337.5 L1464.6 330 L1465.6 336.1 L1466.6 328.7 L1467 338.2 L1468 329.4 L1469 330.9 L1470 328.9 L1470.9 329.3 L1471 329 L1471.9 329.2 L1472.8 328.9 L1473 329.5 L1473.9 327.9 L1474 332.1 L1474.6 325.6 L1475.9 335.2 L1477.3 327.6 L1478.6 334.6 L1480 325.3 L1481.3 335.6 L1482.7 326.6 L1484 334.2 L1485.4 326.4 L1486.7 333.2 L1488.1 327.8 L1489.4 333.2 L1490.8 326 L1492.1 333.8 L1493.5 326.5 L1494.8 334 L1496.2 326.6 L1497.5 333.1 L1498.9 328.3 L1500.2 336 L1501.6 327.1 L1502.9 332.9 L1504 326.2 L1505.3 334.1 L1506 330.4 L1507.3 333.3 L1508.7 330.1 L1510 333.2 L1511.4 330.6 L1512 332.5 L1513.3 324.5 L1514.7 335 L1516 326.2 L1517.4 333.9 L1518.7 326.9 L1520.1 334.6 L1521.4 326.3 L1522.8 335.1 L1524.1 325.1 L1525.5 334.6 L1526.8 324.3 L1528.2 332.6 L1529.5 327.5 L1530.9 332.4 L1532.2 326.9 L1533.6 331.9 L1534.9 327.3 L1536.3 333.5 L1537 324.4 L1538.3 331.7 L1539 326 L1540.3 331.9 L1541.5 327.6 L1542.8 331.2 L1544 326.9 L1545.2 330.3 L1546.4 325.8 L1547.6 330.5 L1548.8 326.5 L1550 331.1 L1551 325.7 L1552.2 328.1 L1552.5 326.7 L1553.7 327.1 L1554.6 327 L1555.5 327.3 L1556 326.7 L1556.9 329.8 L1557.5 329.6 L1557.5 331.6 L1558.1 329.5 L1558.7 335.8 L1559 327.4 L1559.6 336.7 L1560.8 329.8 L1562 336.5 L1563.2 327.6 L1564.4 336 L1565.6 326.6 L1566.8 334 L1568 329.3 L1569.2 336.2 L1570.4 326.6 L1571.6 335.9 L1572.8 328.7 L1574 335.5 L1575.2 327.1 L1576.4 333.9 L1577.6 328.5 L1578 334.3 L1579.2 328.7 L1580.1 328.4 L1581 327.4 L1581.9 326.9 L1582.8 326.1 L1583 326.2 L1583.9 325.8 L1584.8 326.1 L1585.7 325.7 L1586.6 325.7 L1587.5 325.2 L1588.4 325.5 L1589.3 325 L1590.2 325.6 L1591.1 324.9 L1592 325.2 L1592.9 325 L1593.8 325.1 L1594.7 324.7 L1595.6 325.3 L1596.5 324.8 L1597.4 325.1 L1598.3 324.9 L1599.2 325.2 L1600.1 324.8 L1601 325.1 L1601.9 324.9 L1602.8 325 L1603.7 324.8 L1604.6 325.1 L1605.5 324.7 L1606.4 324.9 L1607.3 324.5 L1608.2 324.9 L1609.1 324.7 L1610 324.8 L1610.9 324.7 L1611.8 325 L1612.7 324.6 L1613.6 324.8 L1614 324.6 L1614.9 324.8 L1615.8 324.4 L1616.7 324.9 L1617.6 324.4 L1618.5 325 L1619.4 324.5 L1620.3 325.3 L1621.2 324.9 L1622.1 325.2 L1623 325 L1623.9 325.3 L1624.8 325 L1625.7 325.4 L1626.6 324.5 L1627.5 326 L1628 324.6 L1628.9 325.8 L1630.2 324.6 L1631.4 326.4 L1632.7 324.8 L1633.9 326.3 L1635.2 324.7 L1636.4 326.5 L1637.7 324.9 L1638.9 326.4 L1640.2 324.6 L1641.4 325.9 L1642.7 324.9 L1643.9 326.4 L1645.2 324.5 L1646.4 326 L1647.7 324.6 L1648.9 326.5 L1650.2 324.8 L1651.4 326.3 L1652.7 324.8 L1653.9 326 L1655.2 324.4 L1656 326.4 L1657.2 324.6 L1658 325.4 L1659.2 321.1 L1660.2 318.6 L1661.1 315.4 L1661.5 314.3 L1662.4 313.8 L1663.3 314 L1664.2 313.1 L1665.1 313.7 L1666 312.7 L1666.9 312.8 L1667.8 312.4 L1668.7 312.7 L1668.8 312 L1669.7 312.7 L1670.6 312.2 L1671.5 312.9 L1672.4 312.2 L1673.3 313 L1674.2 311.9 L1675.1 312.8 L1676 312.5 L1676.9 313.2 L1677.8 312.4 L1678.7 313.3 L1679.6 312.6 L1680.5 312.9 L1681.4 312.3 L1682.3 313.1 L1683.2 312.8 L1684.1 313.1 L1685 312.7 L1685.9 313.1 L1686.8 312.8 L1687.7 313.4 L1688.6 312.9 L1689.5 313.3 L1690.4 312.9 L1691 313.8 L1691.9 312.9 L1692.8 313.7 L1693.7 313.3 L1694.6 313.9 L1695.5 313.5 L1696.4 314.1 L1697.3 313.7 L1698 314.6 L1698.9 314.5 L1699.8 315.5 L1700.7 315.4 L1701.6 317.3 L1702 316 L1702.6 317.8 L1703.2 315 L1703.7 315.8 L1704 314.5 L1704.6 316 L1705.8 313.5 L1707 315.9 L1708.2 314.5 L1709.4 316.9 L1710.6 314.6 L1711.8 316.3 L1713 314.3 L1714.2 317.2 L1715.4 314.5 L1716.6 317.5 L1717 315.2 L1718.2 322.4 L1719 313.2 L1719.9 319.7 L1720.7 315.2 L1721.6 321.3 L1722.4 314 L1723.3 320.6 L1724.1 315.3 L1725 321.1 L1725.8 315.3 L1726.7 321.8 L1727.5 312.9 L1728.4 320.4 L1729.2 313.9 L1730.1 322.5 L1730.9 315.4 L1731.8 322.9 L1732.6 312.8 L1733.5 321.5 L1734.3 314.6 L1735.2 323.1 L1736 314.3 L1736.9 321.6 L1737.7 312.9 L1738.6 323.1 L1739.4 315 L1740.3 321.3 L1741.1 315.1 L1742 322 L1742.8 312.8 L1743.7 323.4 L1744.5 313.1 L1745.4 323.5 L1746.2 313.4 L1747.1 320.9 L1747.9 314.6 L1748.8 324.2 L1749.6 313.1 L1750.5 321.7 L1751 315 L1751.8 322.5 L1752 319.1 L1752.8 318.7 L1753.3 318.1 L1754.3 320.4 L1754.8 320.9 L1755.3 321.9 L1755.8 323.5 L1756.8 322.4 L1757.3 320.9 L1757.8 320.2 L1758.3 319.7 L1758.8 319.7 L1759.3 319.2 L1759.8 321.1 L1760.3 321.7 L1760.8 323.2 L1761.3 323 L1761.8 323.1 L1762.3 322.9 L1763.3 319.9 L1764.3 319.6 L1764.8 320.9 L1765.3 321.1 L1765.8 322.2 L1766.3 323.6 L1766.8 323.2 L1767.3 323.6 L1767.8 323.4 L1768.3 321.7 L1768.8 320.5 L1769.3 320.2 L1770.3 320.3 L1771.8 323.6 L1772.3 324.1 L1772.8 323.7 L1773.3 322.9 L1773.8 321.7 L1774.3 321.3 L1775.3 320.9 L1775.8 321.4 L1776.3 322.5 L1776.8 323 L1777.3 324.6 L1778 324.7 L1778.5 324 L1779 322.5 L1779.5 320.5 L1780 318.8 L1780.5 318.2 L1781.5 319.6 L1782 321.2 L1782.5 321.6 L1783 323.1 L1783.5 324.1 L1784 322.5 L1784.5 321.9 L1785.5 319 L1786 319.7 L1786.5 318.7 L1787 320.4 L1787.5 320.7 L1788 321.9 L1788.5 324.1 L1789 323.6 L1789.5 322.4 L1790 321.9 L1790.5 320.6 L1791 320 L1791.5 318.4 L1792 318.8 L1792.5 321 L1793 321.9 L1793.5 322.6 L1794 323.9 L1794.5 324.3 L1795 324.5 L1795.5 323.8 L1797 321.8 L1797.5 322.1 L1798 322.7 L1798.5 323.5 L1799 324 L1799.5 324.9 L1800 325 L1800.5 324.8 L1801 323.3 L1801.5 323.3 L1802 321.7 L1802.5 322.1 L1803 322.1 L1803.5 322.5 L1804 323.8 L1805 324.6 L1805.5 325.1 L1806 324.8 L1807 322.9 L1807.5 322.3 L1808 321.9 L1808.5 322.3 L1809 322.4 L1810 324.3 L1810.5 324.6 L1811.5 324.8 L1812 324.2 L1812.5 323.1 L1813.5 321.8 L1814.5 322.4 L1815 323.6 L1815.5 323.9 L1816 323.6 L1816.5 325 L1817 323.6 L1817.5 323.4 L1818 322.2 L1818.5 321.4 L1819 319.7 L1819.5 320.3 L1820 321.8 L1820.5 321.7 L1821 322.9 L1821.5 324.5 L1822.5 324.8 L1823 323.6 L1823.5 322 L1824 321.7 L1824.5 320.5 L1825 320.7 L1825.5 321.8 L1826 322.5 L1827 324.8 L1827.5 324.6 L1828 325 L1829 322.3 L1829.5 320.7 L1830 320.6 L1830.5 320.8 L1831.5 323 L1832 324.6 L1832.5 325.6 L1833.5 324.5 L1834.5 323.2 L1835 321.3 L1835.5 321.1 L1836 321.7 L1836.5 321.6 L1837 322.9 L1837.5 325 L1838 325.6 L1838.5 325.3 L1839 324.3 L1839.5 324.5 L1840 323 L1840.5 322.3 L1841 322.1 L1842 322.2 L1842.5 323 L1843.3 325.1" stroke="#0000FF" stroke-width="1.25" fill="none" stroke-linejoin="round"/>
<path d="M1266.7 551.1H1844.3" stroke="#97979d" stroke-width="1.8" fill="none"/>
<path d="M1267.2 133.5H1843.5V554.3" stroke="#66666c" stroke-width="1.2" fill="none"/>
<path d="M1270.5 133.3V554.8" stroke="#4a4a50" stroke-width="1.3" fill="none"/>
<path d="M1266.7 133.3H1270.7M1266.7 216.9H1270.7M1266.7 300.3H1270.7M1266.7 383.8H1270.7M1266.7 467.3H1270.7M1266.7 550.8H1270.7M1268.5 133.3H1270.7M1268.5 150H1270.7M1268.5 166.7H1270.7M1268.5 183.4H1270.7M1268.5 200.1H1270.7M1268.5 216.8H1270.7M1268.5 233.5H1270.7M1268.5 250.2H1270.7M1268.5 266.9H1270.7M1268.5 283.6H1270.7M1268.5 300.3H1270.7M1268.5 317H1270.7M1268.5 333.7H1270.7M1268.5 350.4H1270.7M1268.5 367.1H1270.7M1268.5 383.8H1270.7M1268.5 400.5H1270.7M1268.5 417.2H1270.7M1268.5 433.9H1270.7M1268.5 450.6H1270.7M1268.5 467.3H1270.7M1268.5 484H1270.7M1268.5 500.7H1270.7M1268.5 517.4H1270.7M1268.5 534.1H1270.7M1268.5 550.8H1270.7M1270.7 550.8V554.8M1385.3 550.8V554.8M1499.9 550.8V554.8M1614.5 550.8V554.8M1729.1 550.8V554.8M1843.7 550.8V554.8M1270.7 550.8V553M1293.6 550.8V553M1316.5 550.8V553M1339.5 550.8V553M1362.4 550.8V553M1385.3 550.8V553M1408.2 550.8V553M1431.1 550.8V553M1454.1 550.8V553M1477 550.8V553M1499.9 550.8V553M1522.8 550.8V553M1545.7 550.8V553M1568.7 550.8V553M1591.6 550.8V553M1614.5 550.8V553M1637.4 550.8V553M1660.3 550.8V553M1683.3 550.8V553M1706.2 550.8V553M1729.1 550.8V553M1752 550.8V553M1774.9 550.8V553M1797.9 550.8V553M1820.8 550.8V553M1843.7 550.8V553" stroke="#404040" stroke-width="0.9" fill="none"/>
<g font-size="7.2" fill="#222">
<text x="1265.7" y="136.3" text-anchor="end">0.29</text>
<text x="1265.7" y="219.9" text-anchor="end">0.28</text>
<text x="1265.7" y="303.3" text-anchor="end">0.27</text>
<text x="1265.7" y="386.8" text-anchor="end">0.26</text>
<text x="1265.7" y="470.3" text-anchor="end">0.25</text>
<text x="1265.7" y="553.8" text-anchor="end">0.24</text>
<text x="1270.7" y="563.2" text-anchor="middle">0</text>
<text x="1385.3" y="563.2" text-anchor="middle">20</text>
<text x="1499.9" y="563.2" text-anchor="middle">40</text>
<text x="1614.5" y="563.2" text-anchor="middle">60</text>
<text x="1729.1" y="563.2" text-anchor="middle">80</text>
<text x="1843.7" y="563.2" text-anchor="middle">100</text>
</g>
<rect x="1275.2" y="607" width="569.7" height="417.2" fill="url(#pg)"/>
<path d="M1274.9 648.4H1847.2M1274.9 732.1H1847.2M1274.9 815.9H1847.2M1274.9 899.6H1847.2M1274.9 983.3H1847.2M1418 606.4V1025M1561.1 606.4V1025M1704.1 606.4V1025" stroke="#b9b9b9" stroke-width="0.9" stroke-dasharray="1 1.3" fill="none"/>
<path d="M1274.9 721.7 L1275.8 721.7 L1276.7 722 L1277.6 721.9 L1278.5 722.4 L1279.4 722.3 L1280 722.9 L1280.9 720 L1281 723 L1281.6 721.4 L1282.2 726 L1282.7 723.6 L1283 726.6 L1283.6 725.5 L1284.2 727.2 L1284.5 727.1 L1285.4 728 L1286.3 727.6 L1287.2 728.2 L1288.1 728.1 L1289 728.7 L1289.9 728.5 L1290.8 729.2 L1291.7 728.8 L1292.6 729.8 L1293.5 730.1 L1294.4 731.7 L1295.3 732.6 L1296.2 734 L1296.3 733.5 L1297.2 734.2 L1298.1 734 L1299 734.3 L1299.9 734 L1300.8 734.7 L1301.7 734.1 L1302.6 734.8 L1303.5 734.4 L1304.4 734.6 L1305 734.4 L1305.9 736.2 L1306.5 731.3 L1306.5 737.2 L1307.1 734.2 L1307.7 738.2 L1308.2 736.1 L1308.8 741.4 L1309.4 736.8 L1310 740.8 L1310 738.2 L1310.6 740.9 L1311.2 739 L1311.7 741.7 L1312.3 738.7 L1312.9 741.5 L1313.5 739.7 L1314 740.4 L1314.9 739.9 L1315.8 740.2 L1316.7 739.5 L1317.6 740.7 L1318.5 740.1 L1319.4 740.9 L1320.3 739.9 L1321.2 740.6 L1322.1 740.2 L1323 741.1 L1323.9 740.4 L1324.8 741.1 L1325.7 740.6 L1326.6 740.9 L1327 740.5 L1327.9 741.2 L1328.8 740.5 L1329.4 743.3 L1330 740.2 L1330 743.5 L1330.6 740.7 L1331.2 742.5 L1331.7 740.7 L1332.3 742.7 L1332.9 739.5 L1333.5 743.1 L1334.1 740.7 L1334.6 743.1 L1335.2 740.9 L1335.8 743.6 L1336 741.3 L1336.6 743.6 L1337.2 742.6 L1337.7 745.3 L1338.3 743.2 L1338.9 744.9 L1339.5 744.6 L1339.6 745 L1340.5 744.9 L1341.4 745.4 L1342.3 745.1 L1343.2 745.8 L1344.1 745.8 L1345 746.4 L1345.6 746.2 L1346.5 746.4 L1347.4 746 L1348.3 746.4 L1349.2 746.2 L1350.1 746.7 L1351 746.1 L1351.9 746.5 L1352.8 746.3 L1353.7 746.7 L1354.6 746.4 L1355.5 746.9 L1356.4 746.4 L1357.3 746.9 L1358.2 746.4 L1359.1 746.6 L1360 746.4 L1360.9 746.6 L1361.8 746.3 L1362.7 746.7 L1363.6 746.2 L1364.5 746.8 L1365.4 746.5 L1366.3 746.7 L1367.2 746.5 L1368.1 746.8 L1369 746.3 L1369.9 746.8 L1370.8 746.6 L1371.7 746.9 L1372.6 746.7 L1373.5 747.1 L1374.4 746.7 L1375.3 747.1 L1376.2 746.6 L1377.1 747 L1378 746.7 L1378.9 747 L1379.8 746.8 L1380.7 747.3 L1381.6 746.8 L1382.5 747.2 L1383.4 746.9 L1384.3 747.2 L1385.2 746.9 L1386.1 747.2 L1387 746.9 L1387.9 747.1 L1388.8 746.9 L1389.7 747.2 L1390.6 747 L1391.5 747.4 L1392.4 747 L1393.3 747.3 L1394.2 746.7 L1395.1 747.5 L1396 746.7 L1396.9 747.6 L1397.8 747.1 L1398.7 747.3 L1399.6 747.2 L1400.5 747.6 L1401.4 747 L1402.3 747.4 L1403.2 747.1 L1404.1 747.6 L1405 747 L1405.9 747.5 L1406.8 746.9 L1407.7 747.5 L1408.6 747.1 L1409.5 747.5 L1410.4 747.3 L1411.3 748 L1412.2 747.1 L1413.1 747.8 L1414 747.4 L1414.9 747.7 L1415.8 747.5 L1416.7 747.8 L1417.6 747.6 L1418 748 L1418.9 747.7 L1419.8 748 L1420.7 747.4 L1421.6 748 L1422.5 747.1 L1423.4 748.3 L1424.3 746.8 L1424.9 748.5 L1425.5 747.2 L1426 749 L1426.6 747.3 L1427.2 748.4 L1427.8 746.6 L1428.4 749.2 L1428.9 747.4 L1429 748.5 L1429.6 744.8 L1430 752.1 L1430.6 746.9 L1431.2 750.7 L1431.7 746.8 L1432.3 753.2 L1432.9 746.6 L1433.5 753.9 L1434.1 744.3 L1434.6 750.4 L1435.2 744.6 L1435.8 751.4 L1436.4 744.4 L1437 753.6 L1437.5 746.5 L1438.1 750.5 L1438.7 743.3 L1439.3 751.6 L1439.9 743.4 L1440.4 752.9 L1441 744.6 L1441.6 753.7 L1442.2 745.2 L1442.8 751.9 L1443.3 747.3 L1443.9 753.1 L1444 746.2 L1444.6 752.5 L1445 749.3 L1445.6 752.2 L1446.2 749.7 L1446.7 752.2 L1447.3 749.9 L1447.9 753.4 L1448.5 750.6 L1449.1 752.8 L1449.6 749.2 L1450.2 753 L1450.8 750.2 L1451 752.4 L1451.6 749 L1452 751.8 L1452.6 746.6 L1453.2 751.3 L1453.7 747 L1454.3 751.1 L1454.9 745.2 L1455.5 753.2 L1456.1 747.2 L1456.6 751.4 L1457.2 746.1 L1457.8 752.2 L1458.4 743.9 L1459 751.8 L1459.5 747 L1460.1 754.4 L1460.7 747.5 L1461.3 752.7 L1461.9 746.9 L1462.4 754 L1463 746 L1463.6 753.7 L1464.2 747.4 L1464.8 753.2 L1465.3 745.7 L1465.9 752.2 L1466.5 744.8 L1467.1 754.1 L1467.7 747.5 L1468.2 751.6 L1468.8 746.8 L1469.4 751.3 L1470 747.6 L1470.6 751.5 L1471.1 747.3 L1471.7 753.4 L1472.3 746.4 L1472.9 751.1 L1473.5 746.9 L1474 752.3 L1474.6 746.9 L1475 749.6 L1475.6 747.5 L1476.2 749.5 L1476.7 745 L1477.3 751.1 L1477.9 747.5 L1478 751 L1478.6 745 L1479.2 752 L1479.7 748.3 L1480 752.7 L1480.6 747.4 L1481.2 750.4 L1481.7 746.9 L1482 749.3 L1482.6 745.7 L1483.2 750.6 L1483.7 746.3 L1484.3 751.9 L1484.9 746 L1485.5 749.9 L1486 747 L1486.6 750.3 L1487.2 748 L1487.7 753.7 L1488 745.6 L1488.6 751.1 L1489.2 747.8 L1489.7 749.7 L1490 746.5 L1490.6 749.6 L1491.2 747.4 L1491.7 749.2 L1492.3 746.6 L1492.9 749 L1493.5 747.2 L1494.1 748 L1495 747.1 L1495.9 747.9 L1496.8 747.4 L1497.7 748 L1498.6 747.4 L1499.5 748.1 L1500 747.4 L1500.9 747.6 L1501.8 747.2 L1502.7 747.8 L1503.6 746.9 L1504.5 747.9 L1505.4 746.8 L1506.3 748.1 L1507.2 747.1 L1508.1 747.6 L1509 747.2 L1509.9 747.5 L1510.8 747 L1511.7 747.4 L1512.6 746.9 L1513.5 747.4 L1514.4 747 L1515.3 747.9 L1516.2 747.1 L1517.1 747.3 L1518 747 L1518.9 747.3 L1519.8 746.8 L1520.7 747.3 L1521.6 746.7 L1522.5 747.7 L1523.4 746.7 L1524.3 747.3 L1525.2 747 L1526.1 747.5 L1527 746.9 L1527.9 747.3 L1528.8 747 L1529.7 747.3 L1530.6 746.8 L1531.5 747.5 L1532.4 746.6 L1533.3 747.2 L1534.2 746.9 L1535.1 747.2 L1536 746.8 L1536.9 747.2 L1537.8 746.9 L1538.7 747.1 L1539.6 746.9 L1540.5 747.2 L1541.4 746.5 L1542.3 747.5 L1543.2 746.5 L1544.1 747.5 L1545 746.4 L1545.9 747.2 L1546.8 746.6 L1547.7 747 L1548.6 746.7 L1549.5 747.2 L1550.4 746.8 L1551.3 747.1 L1552.2 746.4 L1553.1 747.1 L1554 746.6 L1554.9 747 L1555.8 746.8 L1556.7 747.3 L1557.6 746.8 L1558.5 746.9 L1559.4 746.6 L1560.3 747 L1561.2 746.8 L1562.1 747.1 L1563 746.7 L1563.9 747 L1564.8 746.7 L1565 747 L1565.9 746.6 L1566.8 746.9 L1567.7 746.7 L1568.6 746.8 L1569.5 746.3 L1570.4 746.9 L1571.3 746.6 L1572.2 747.1 L1573.1 746.6 L1574 746.7 L1574.9 746.5 L1575.8 746.7 L1576.7 746.5 L1577.6 746.8 L1578.5 746.5 L1579.4 746.8 L1580.3 746.5 L1581.2 746.8 L1582.1 746.3 L1583 746.6 L1583.9 746.4 L1584.8 746.6 L1585.7 746.3 L1586.6 746.9 L1587.5 746.3 L1588.4 746.8 L1589.3 746.1 L1590.2 746.5 L1591.1 745.9 L1592 746.8 L1592.9 746.3 L1593.8 746.8 L1594.7 746.2 L1595.6 746.5 L1596.5 745.8 L1597.4 746.6 L1598.3 745.9 L1599.2 746.4 L1600 745.9 L1600.9 746.6 L1601.5 745.4 L1602 747 L1602.6 745.2 L1603.2 747.5 L1603.7 744.8 L1604.3 747 L1604.9 743.3 L1605.5 747.3 L1606.1 742.3 L1606.6 748 L1607 742 L1607.6 747.9 L1608.2 741.8 L1608.7 749 L1609.3 744.2 L1609.9 748.5 L1610.5 743.8 L1611.1 748.6 L1611.6 742.7 L1612.2 748.9 L1612.8 744.3 L1613.4 747.3 L1614 742.5 L1614.5 749.4 L1615.1 742.6 L1615.7 746.6 L1616.3 743 L1616.9 746.7 L1617.4 743.2 L1618 748.8 L1618.6 744.3 L1619.2 749.3 L1619.8 742.7 L1620.3 747 L1620.9 744.1 L1621.5 747.5 L1622.1 742.1 L1622.7 747.9 L1623.2 744.3 L1623.8 746.6 L1624.4 744.3 L1625 748.8 L1625.6 744.1 L1626.1 747.8 L1626.7 743.9 L1627 748.3 L1627.6 744.3 L1628.2 746.5 L1628.7 745.3 L1629 746.2 L1629.9 745.7 L1630.8 746.3 L1631.7 745.6 L1632.6 746 L1633.5 745.9 L1634.4 746 L1635.3 745.8 L1636.2 746.3 L1637.1 745.7 L1638 746 L1638.9 745.9 L1639.8 746.3 L1640.7 745.7 L1641.6 746.1 L1642.5 745.8 L1643.4 746 L1644.3 745.6 L1645.2 746 L1646.1 745.6 L1647 746.1 L1647.9 745.9 L1648.8 746 L1649.7 745.8 L1650.6 746.3 L1651.5 745.7 L1652.4 746 L1653.3 745.8 L1654.2 746 L1655.1 745.8 L1656 746.1 L1656.9 745.8 L1657.8 746 L1658.7 745.8 L1659.6 746 L1660.5 745.8 L1661.4 745.9 L1662.3 745.7 L1663.2 746.3 L1664.1 745.8 L1665 745.9 L1665.9 745.6 L1666.8 745.9 L1667.7 745.8 L1668.6 746 L1669.5 745.8 L1670.4 746 L1671.3 745.7 L1672.2 746.2 L1673.1 745.4 L1674 745.9 L1674.9 745.6 L1675.8 746.1 L1676 745.5 L1676.9 745.9 L1677.8 744 L1678 746.1 L1678.6 744.1 L1679.2 745.7 L1679.7 743.2 L1680.3 746.7 L1680.9 742.6 L1681.5 746.4 L1682.1 743.7 L1682.6 746.7 L1683.2 742.6 L1683.8 746.1 L1684.4 742.6 L1685 745.8 L1685.5 742.6 L1686.1 745.9 L1686.7 743.3 L1687 745.8 L1687.6 742.9 L1688.2 747.7 L1688.7 742.6 L1689.3 745.8 L1689.9 743.1 L1690.5 745.5 L1691.1 743 L1691.6 745.4 L1692.2 743.5 L1692.8 747.2 L1693.4 742.8 L1694 746 L1694.5 742.6 L1695.1 745.7 L1695.7 743.5 L1696.3 745.3 L1696.9 743.3 L1697.4 745.7 L1698 742.4 L1698.6 746.9 L1699.2 741.8 L1699.7 747.6 L1700 741.9 L1700.6 748.6 L1701.2 744.7 L1701.7 747.4 L1702.3 743.4 L1702.9 750.3 L1703.5 744.2 L1704.1 749.3 L1704.6 744 L1705.2 749.6 L1705.8 744.8 L1706.4 748.2 L1707 742.3 L1707.5 747.6 L1708 744.5 L1708.6 747 L1709.2 745.4 L1709.7 746.8 L1710 745.9 L1710.9 746.4 L1711.8 746.1 L1712.7 746.4 L1713.6 746 L1714.5 746.9 L1715.4 745.9 L1716.3 746.4 L1717.2 745.8 L1718.1 747 L1719 746 L1719.9 746.4 L1720.8 745.8 L1721.7 746.9 L1722.6 746.1 L1723.5 746.4 L1724.4 746.2 L1725.3 746.6 L1726.2 745.7 L1727.1 746.7 L1728 745.7 L1728.9 746.4 L1729.8 746.1 L1730.7 746.7 L1731.6 745.9 L1732.5 746.5 L1733.4 745.9 L1734.3 746.5 L1735.2 746.2 L1736.1 746.5 L1737 746.2 L1737.9 747.3 L1738.5 744.5 L1739 747.3 L1739.6 743.3 L1740.2 746.9 L1740.7 743.6 L1741.3 746.6 L1741.9 741.9 L1742.5 747.9 L1743.1 741.4 L1743.6 746.7 L1744.2 742.8 L1744.8 748.7 L1745.4 743.6 L1746 746.9 L1746.5 744 L1747.1 747 L1747.7 741.8 L1748 746.9 L1748.6 741.5 L1749.2 747.9 L1749.7 742.8 L1750.3 748.7 L1750.9 742.8 L1751.5 749.1 L1752.1 742.6 L1752.6 747.9 L1753.2 742 L1753.8 747.8 L1754.4 742.1 L1755 750 L1755.5 741.8 L1756 748.1 L1756.6 741.4 L1757 742.7 L1757.9 741.2 L1758.5 743 L1759.1 740.9 L1759.6 745 L1760.2 741.4 L1760.8 743.5 L1761 740.6 L1761.6 744.3 L1762.2 739.9 L1762.7 742.5 L1763.3 739.8 L1763.9 741.2 L1764 740.6 L1764.9 741.1 L1765.8 740.9 L1766.7 741 L1767.6 740.8 L1768.5 741.1 L1769.4 740.6 L1770.3 740.9 L1771.2 740.3 L1772.1 740.9 L1773 740.7 L1773.9 740.8 L1774.8 740.4 L1775.7 741.2 L1776.6 740.6 L1777.5 740.7 L1778.4 740.2 L1779.3 740.7 L1780.2 740 L1781.1 740.7 L1782 740.3 L1782.9 740.6 L1783.8 740.1 L1784.7 740.6 L1785.6 740.3 L1786.5 740.8 L1787.4 740.3 L1788.3 740.7 L1789.2 740.2 L1790.1 740.5 L1791 740.1 L1791.9 740.6 L1792.8 740.2 L1793.7 740.4 L1794.6 740 L1795.5 740.6 L1796.4 739.7 L1797.3 740.3 L1798.2 740 L1799.1 740.1 L1800 739.9 L1800.9 740.1 L1801 739.9 L1801.9 739.9 L1802.8 737.9 L1803 741 L1803.6 738.4 L1804.2 742.1 L1804.7 738.3 L1805.3 741.1 L1805.9 738.1 L1806.5 742.1 L1807.1 735.9 L1807.6 740.4 L1808.2 735.9 L1808.8 742.3 L1809.4 737.1 L1810 740.6 L1810.5 736.2 L1811.1 743 L1811.7 736.9 L1812 742.1 L1812.6 735.2 L1813.2 741 L1813.7 735.1 L1814.3 742.9 L1814.9 736.3 L1815.5 742.8 L1816.1 735.7 L1816.6 742.1 L1817.2 733.2 L1817.8 739.6 L1818.4 733 L1819 743.1 L1819.5 735.4 L1820.1 739 L1820.7 735.7 L1821.3 742.8 L1821.9 735.7 L1822.4 742.3 L1823 735.3 L1823.6 741.2 L1824.2 735.3 L1824.8 738.8 L1825.3 732.9 L1825.9 738.5 L1826.5 734.3 L1827.1 741.9 L1827.7 732.4 L1828 741.6 L1828.6 731.4 L1829.2 737.4 L1829.7 734.9 L1830.3 738.1 L1830.9 734.5 L1831 736.3 L1831.6 734.8 L1832.2 736.3 L1832.7 734.9 L1833.3 736.1 L1833.9 735.4 L1834.8 736.4 L1835.7 735.2 L1836.6 736.1 L1837.5 735.2 L1838.4 735.5 L1839.3 735.1 L1840.2 735.3 L1841.1 734.9 L1842 735.3 L1842.9 734.8 L1843.8 735.1 L1844.7 734.6 L1845.6 734.7 L1846.5 734.5 L1846.8 734.7" stroke="#008000" stroke-width="1.25" fill="none" stroke-linejoin="round"/>
<path d="M1274.9 777.9 L1275.8 777.5 L1276.7 777.7 L1277.6 777.3 L1278.5 777.9 L1279.4 777.4 L1280.3 777.7 L1281.2 777.6 L1282.1 777.8 L1283 777.6 L1283.9 777.8 L1284 777.6 L1284.9 777.8 L1285 776 L1285.6 778.8 L1286.2 778.7 L1286.7 780.7 L1287.5 781 L1288.4 782.4 L1289.3 782.2 L1290.2 783.5 L1291.1 782.9 L1292 784.6 L1292.6 784 L1293.5 784.6 L1294.4 784.4 L1295.3 784.8 L1296.2 784 L1297.1 784.9 L1298 784.6 L1298.9 785.1 L1299.8 784.8 L1300.7 785.7 L1301.6 785 L1302.5 785.5 L1303.4 784.5 L1304.3 785.4 L1305 784.9 L1305.9 786.7 L1306.5 784.7 L1307 787.3 L1307.6 784.9 L1308.2 789.4 L1308.7 783.2 L1309.3 789.7 L1309.9 785.2 L1310.5 789.1 L1311.1 784.9 L1311.6 789 L1312.2 784.4 L1312.8 788.2 L1313.4 783 L1314 787.8 L1314.5 784 L1315.1 790.2 L1315.7 784.9 L1316 789.3 L1316.6 784.2 L1317.2 788.8 L1317.7 786.9 L1318 789.9 L1318.6 787.7 L1319.2 790 L1319.7 787.9 L1320.3 789.8 L1320.9 787.7 L1321.5 790.2 L1322.1 788.3 L1322.6 790.2 L1323.2 788.2 L1323.8 789.8 L1324.4 788.2 L1325 790 L1325.5 787.9 L1326.1 790.4 L1326.7 788.4 L1327.3 790.6 L1327.9 788.9 L1328.4 790.4 L1329 789.4 L1329.6 791.5 L1330 789.1 L1330.6 790.3 L1412.8 790.3 L1413.8 790.3 L1414 789.3 L1414.9 790.1 L1415.8 789.7 L1416.7 790.5 L1417.6 788.9 L1418.2 790.6 L1418.8 788.3 L1419.3 790.9 L1419.9 788.1 L1420.5 789.9 L1421.1 788.6 L1421.7 790.7 L1422.2 787.9 L1422.8 789.7 L1423.4 788.6 L1424 789.7 L1424.6 788.5 L1425.1 789.7 L1425.7 787.5 L1426.3 789.9 L1426.9 787.9 L1427.5 789.3 L1428 787.8 L1428.6 790.6 L1429.2 787.3 L1429.8 789.5 L1430.4 787.5 L1430.9 790 L1431.5 786.9 L1432.1 789 L1432.7 786.9 L1433.3 789.1 L1433.8 787 L1434.4 788.9 L1435 787.1 L1435.6 788.9 L1436.2 787 L1436.7 788.5 L1437.3 787.1 L1437.9 789.1 L1438.5 787.1 L1439.1 788.4 L1439.6 786 L1440.2 788.4 L1440.8 786.6 L1441 788.3 L1441.6 787.3 L1442 791.2 L1442.6 787.7 L1443 788.1 L1443.9 787.4 L1444.8 787.8 L1445.7 787.1 L1446.6 788 L1447.5 787.5 L1448.4 787.9 L1449.3 787.6 L1450.2 788 L1451.1 787.5 L1452 788.1 L1452.9 787.8 L1453 788.3 L1453.9 784.7 L1454.5 786.8 L1454.5 784.1 L1455.1 787.3 L1455.7 782.8 L1456.2 786.6 L1456.8 782.7 L1457.4 787.8 L1458 784.4 L1458.6 787.8 L1459.1 784.5 L1459.7 786.7 L1460 783.5 L1460.6 787.1 L1461.2 784.2 L1461.7 787.4 L1462.3 783.2 L1462.9 788.1 L1463.5 785 L1464.1 787.6 L1464.6 784.4 L1465.2 787.3 L1465.8 783.5 L1466.4 787.2 L1467 784.4 L1467.5 788.4 L1468.1 784.5 L1468.7 787.3 L1469.3 784.4 L1469.9 788.1 L1470.4 784.1 L1471 787.9 L1471.6 784.7 L1472.2 786.7 L1472.8 784.1 L1473.3 787.5 L1473.9 783.9 L1474.5 787.9 L1475.1 785.2 L1475.7 786.9 L1476.2 785.2 L1476.8 788 L1477.4 785.2 L1478 786.7 L1478.6 784.1 L1479.1 787.4 L1479.7 785.3 L1480 787.7 L1480.6 784.3 L1481.2 786.2 L1481.7 785 L1482 785.3 L1482.9 784.8 L1483.8 785.2 L1484.7 784.3 L1485.6 785.3 L1486.5 784.4 L1487.4 784.9 L1488.3 784.7 L1489.2 785 L1490.1 784.7 L1491 785.3 L1491.9 784.6 L1492.8 784.8 L1493.7 784.5 L1494.6 784.7 L1495.5 784.2 L1496.4 784.8 L1497.3 784.4 L1498.2 784.7 L1499.1 784.4 L1500 784.6 L1500.9 784 L1501.8 784.8 L1502.7 784 L1503.6 784.5 L1504.5 784.2 L1505.4 784.4 L1506.3 784.1 L1507.2 784.4 L1508.1 784.1 L1509 784.4 L1509.9 784 L1510.8 784.3 L1511.7 783.8 L1512.6 784.2 L1513.5 783.7 L1514.4 784.2 L1515.3 784 L1516.2 784.1 L1517.1 783.8 L1518 784.1 L1518.9 783.7 L1519.8 784 L1520.7 783.8 L1521.6 784.1 L1522.5 783.7 L1523.4 784 L1524.3 783.5 L1525.2 783.9 L1526 783.6 L1526.9 784 L1527.8 783.5 L1528.7 783.9 L1529.6 783.5 L1530 783.6 L1530.9 783 L1531.8 783.3 L1532.7 781.6 L1533.3 783.4 L1533.9 781.5 L1534.4 783.3 L1535 780.4 L1535.6 783.8 L1536.2 780.6 L1536.7 783.7 L1537.3 780.7 L1537.9 784 L1538.5 781.4 L1539.1 783.2 L1539.6 780.2 L1540.2 783 L1540.8 779.9 L1541.4 783.1 L1542 781.4 L1542.5 782.9 L1543.1 780.1 L1543.7 784.6 L1544.3 780.8 L1544.9 783.8 L1545 781 L1545.6 784.3 L1546.2 779.8 L1546.7 782.4 L1547.3 780.6 L1547.9 783.2 L1548.5 780.4 L1549.1 783.3 L1549.6 779.8 L1550.2 781.7 L1550.8 778.9 L1551.4 781.6 L1552 778.6 L1552.5 781 L1553.1 777.4 L1553.7 781 L1554.3 777.3 L1554.9 780.5 L1555 777.2 L1555.6 781.3 L1556.2 777.9 L1556.7 778.3 L1557 777.9 L1557.9 778.2 L1558.8 777.9 L1559.7 778.1 L1560.6 777.9 L1561.5 778.1 L1562.4 777.7 L1563.3 778.1 L1564.2 777.7 L1565.1 778 L1566 777.7 L1566.9 778 L1567.8 777.6 L1568.7 778.3 L1569.6 777.6 L1570.5 778.1 L1571.4 777.8 L1572.3 778 L1573 777.7 L1573.9 778 L1574.8 777.2 L1575.7 777.8 L1576 777.4 L1576.9 778.2 L1577.8 776.3 L1578.4 778 L1579 776.4 L1579.5 777.4 L1580.1 775.8 L1580.7 778.4 L1581.3 774.4 L1581.9 777 L1582.4 773.7 L1583 776.6 L1583.6 774 L1584.2 778.3 L1584.8 774.1 L1585.3 778.2 L1585.9 772.9 L1586.5 775.9 L1587.1 773.3 L1587.7 776.4 L1588.2 773.1 L1588.8 777.2 L1589.4 772.9 L1590 777.2 L1590 772.4 L1590.6 775.1 L1591.2 771.5 L1591.7 775 L1592.3 771.5 L1592.9 776.7 L1593.5 771.2 L1594.1 775.4 L1594.6 772.4 L1595.2 775.4 L1595.8 772.2 L1596.4 775.6 L1597 772 L1597.5 775.2 L1598 771.5 L1598.6 774.4 L1599.2 770.8 L1599.7 773.8 L1600.3 771.8 L1600.9 775.2 L1601.5 771.6 L1602.1 774.5 L1602.6 770.7 L1603.2 773.5 L1603.8 771.8 L1604.4 772.8 L1605 771.5 L1605.9 772.3 L1606 771.9 L1606.9 772.5 L1607.8 772.1 L1608.7 772.4 L1609.6 772 L1610.5 772.4 L1611.4 771.8 L1612.3 772.3 L1613.2 771.9 L1614.1 772.2 L1615 771.9 L1615.9 772.1 L1616.8 771.9 L1617.7 772.5 L1618.6 771.7 L1619.5 772.5 L1620.4 771.9 L1621.3 772.5 L1622.2 771.7 L1623.1 772.3 L1624 771.6 L1624.9 772.2 L1625.8 771.7 L1626.7 772.2 L1627.6 771.7 L1628.5 771.9 L1629.4 771.7 L1630.3 771.9 L1631.2 771.5 L1632.1 771.8 L1633 771.3 L1633.9 771.8 L1634.8 771.5 L1635.7 771.8 L1636.6 771.4 L1637.5 772 L1638.4 771.3 L1639.3 771.7 L1640.2 771.5 L1641.1 771.8 L1642 771.1 L1642.9 771.6 L1643.8 771.3 L1644.7 771.7 L1645.6 771.2 L1646.5 771.6 L1647.4 771.2 L1648.3 771.6 L1649.2 771.1 L1650 771.5 L1650.9 770.2 L1651.8 771.6 L1652 769.4 L1652.6 771.1 L1653.2 769.4 L1653.7 772.2 L1654.3 768.4 L1654.9 771 L1655.5 768.9 L1656.1 770.9 L1656.6 768.9 L1657.2 770.9 L1657.8 768.5 L1658.4 772.9 L1659 766.3 L1659.5 772.3 L1660 767.7 L1660.6 771.3 L1661.2 766.8 L1661.7 772.6 L1662.3 766.9 L1662.9 771.7 L1663.5 768.3 L1664.1 771.7 L1664.6 766.5 L1665.2 772.1 L1665.8 768.4 L1666.4 771.9 L1667 768 L1667.5 770.5 L1668.1 766.1 L1668.7 771.7 L1669.3 766.9 L1669.9 770.4 L1670.4 766.6 L1671 772.6 L1671.6 766.3 L1672.2 771.9 L1672.8 766.6 L1673.3 772 L1673.9 767.3 L1674.5 771 L1675.1 766.6 L1675.7 771.9 L1676.2 766.4 L1676.8 770.6 L1677.4 766.1 L1678 771.2 L1678.6 766.1 L1679.1 770.3 L1679.7 766.1 L1680.3 771.9 L1680.9 768 L1681.5 772 L1682 768.1 L1682.6 770.4 L1683.2 767.6 L1683.8 770.4 L1684.4 767.5 L1684.9 772.2 L1685.5 767 L1686 771.5 L1686.6 767 L1687.2 772.2 L1687.7 763.8 L1688 772 L1688.6 762.5 L1689.2 772.7 L1689.7 765.2 L1690.3 769.6 L1690.9 764 L1691.5 772.7 L1692.1 765.4 L1692.6 771.4 L1693.2 762.9 L1693.8 772.4 L1694.4 766.1 L1695 770.8 L1695.5 766.1 L1696.1 769.4 L1696.7 762.9 L1697.3 770.4 L1697.9 764 L1698.4 770.5 L1699 765.1 L1699.6 769.5 L1700 765 L1700.6 772.4 L1701.2 763.8 L1701.7 769.8 L1702 765.8 L1702.6 769.6 L1703.2 763.4 L1703.7 769.9 L1704.3 763.7 L1704.9 771.3 L1705.5 765.5 L1706.1 770.4 L1706.6 765.6 L1707.2 770.7 L1707.8 765.3 L1708.4 768.4 L1709 762.5 L1709.5 768.4 L1710 765.1 L1710.6 769.3 L1711.2 764.9 L1711.7 767.7 L1712 766.1 L1712.9 766.5 L1713.8 765.5 L1714.7 766.5 L1715.6 765.5 L1716.5 766.3 L1717.4 765.6 L1718.3 766.2 L1719.2 765.8 L1720.1 766.1 L1721 765.9 L1721.9 766.6 L1722.8 765.7 L1723.7 766.4 L1724.6 765.8 L1725.5 766.1 L1726.4 765.8 L1727.3 766.1 L1728.2 765.3 L1729.1 766 L1730 765.6 L1730.9 766.3 L1731.8 765.1 L1732.7 766 L1733.6 765.5 L1734.5 765.9 L1735.4 765.4 L1736.3 766.1 L1737.2 765.4 L1738.1 765.8 L1739 765.2 L1739.9 765.6 L1740.8 765.2 L1741 765.7 L1741.9 763.8 L1742.5 766.1 L1743 764 L1743.6 767.4 L1744.2 764 L1744.7 767.3 L1745.3 762.4 L1745.9 766.6 L1746.5 762.6 L1747.1 767.4 L1747.6 760.6 L1748.2 767.5 L1748.8 760.6 L1749.4 765.5 L1750 761.9 L1750 765.6 L1750.6 758.9 L1751.2 768.6 L1751.7 762.1 L1752.3 766.9 L1752.9 760.4 L1753.5 765.1 L1754.1 761 L1754.6 767.5 L1755.2 759.8 L1755.8 765.4 L1756.4 759 L1757 765.3 L1757.5 759.9 L1758.1 765.7 L1758.7 757.4 L1759.3 766.6 L1759.9 758.2 L1760.4 766.6 L1761 760 L1761.6 768.1 L1762 758.4 L1762.6 766 L1763.2 760.2 L1763.7 763.2 L1764.3 759.4 L1764.9 764.1 L1765.5 759 L1766 762 L1766.6 760.2 L1767.2 762.1 L1767.7 758.8 L1768.3 761.4 L1768.9 759 L1769.5 761.3 L1770 759.7 L1770.6 761.1 L1771.2 759.7 L1771.7 761.3 L1772.3 758.6 L1772.9 762.2 L1773.5 759.7 L1774.1 761 L1774.6 758.7 L1775.2 760.8 L1775.8 759.6 L1776.4 761 L1777 760 L1777.9 760.3 L1778.8 759.9 L1779.7 760.3 L1780.6 759.3 L1781 760.2 L1781.9 759.8 L1782.8 760.6 L1783.7 759.7 L1784.6 760.4 L1785.5 759.5 L1786.4 760.3 L1787.3 759.6 L1788.2 759.9 L1789.1 759.3 L1790 759.9 L1790.9 759.4 L1791.8 760 L1792.7 759.2 L1793.6 759.7 L1794.5 759.4 L1795.4 760.1 L1796.3 759.3 L1797.2 759.6 L1798.1 759.2 L1799 759.5 L1799.9 759.1 L1800.8 759.5 L1801.7 759 L1802.6 759.5 L1803.5 759.2 L1804.4 759.7 L1805.3 759.1 L1806.2 759.3 L1807.1 759.1 L1808 759.3 L1808.9 758.9 L1809.8 759.3 L1810.7 759 L1811.6 759.3 L1812.5 759 L1813 759.1 L1813.9 758.3 L1814.8 760.6 L1815 757 L1815.6 760.2 L1816.2 756.2 L1816.7 759.6 L1817.3 755.2 L1817.9 760.6 L1818.5 756.5 L1819.1 759.7 L1819.6 754.6 L1820.2 759.6 L1820.8 756.2 L1821.4 761.6 L1822 754.8 L1822 760.2 L1822.6 754.2 L1823.2 761.9 L1823.7 756 L1824.3 759.5 L1824.9 756.1 L1825.5 759.8 L1826.1 754.9 L1826.6 761.7 L1827.2 754.2 L1827.8 760.4 L1828.4 755.2 L1829 760.4 L1829.5 755.6 L1830 761.6 L1830.6 753.7 L1831.2 759.2 L1831.7 754.9 L1832 757.1 L1832.6 753.7 L1833.2 756.6 L1833.7 753.2 L1834.3 757.3 L1834.9 753.5 L1835.5 757 L1836.1 753.5 L1836.6 757 L1837.2 754.2 L1837.8 756.5 L1838.4 753.2 L1839 756.2 L1839.5 753.8 L1840.1 755.3 L1840.7 753.1 L1841.3 756.4 L1841.9 753.6 L1842.4 755.2 L1843 753.5 L1843.6 754.9 L1844.2 752.6 L1844.8 756.4 L1845.3 752.2 L1845.9 755 L1846 752.4 L1846.6 755.5 L1846.8 755.7" stroke="#FF0000" stroke-width="1.25" fill="none" stroke-linejoin="round"/>
<path d="M1274.9 841 L1275.8 841 L1276.7 841.1 L1277.6 841 L1278.5 841 L1279.4 841 L1280.3 841.1 L1281.2 840.9 L1282.1 841.2 L1283 841 L1283.9 841 L1284.8 840.2 L1285.7 840.1 L1286.6 838.6 L1287 840.2 L1287.6 838.6 L1288.2 840.3 L1288.7 838.3 L1289.3 840.5 L1289.9 837.8 L1290.5 840.5 L1291.1 836.3 L1291.6 839.6 L1292 837.3 L1292.6 840.2 L1293.2 836.7 L1293.7 839.5 L1294.3 835.2 L1294.9 838.3 L1295 834 L1295.6 839.5 L1296.2 834.4 L1296.7 837.2 L1297.3 834.8 L1297.8 835.8 L1298.7 835.3 L1299.6 836 L1300.5 834.7 L1301.4 835.8 L1302.3 834.6 L1303.2 835.4 L1304.1 834.5 L1305 835.3 L1305.9 834.9 L1306.8 835.2 L1307.7 834.8 L1308.6 835.3 L1309.5 834.6 L1310.4 835.1 L1311.3 834.7 L1312.2 834.9 L1312.8 834.7 L1313.7 834.6 L1314.6 833.5 L1315.2 835.3 L1315.8 832.4 L1316 834.6 L1316.6 832.3 L1317.2 834.7 L1317.7 831.4 L1318.3 833.3 L1318.9 829.7 L1319.5 833.9 L1320 827.3 L1320.6 833.6 L1321.2 827.2 L1321.7 833.8 L1322.3 827.8 L1322.9 832.6 L1323.5 829 L1324.1 830.9 L1324.6 828.7 L1325.2 832 L1325.8 827.1 L1326 831.1 L1326.6 828.1 L1327.2 829.8 L1327.7 828.2 L1328.3 829 L1329.2 828 L1330.1 828.5 L1331 828.3 L1331.9 828.4 L1332.8 828.3 L1333.7 828.7 L1334.6 828.1 L1335.5 828.5 L1336.4 828.3 L1337.3 828.4 L1338.2 828.3 L1339.1 828.5 L1340 828.2 L1340.9 828.6 L1341.8 828 L1342.7 828.5 L1343 828.2 L1343.9 829.8 L1344.5 826.7 L1345 828.8 L1345.6 824.8 L1346.2 829.8 L1346.7 825.8 L1347.3 828.9 L1347.9 825.9 L1348.5 831.3 L1349.1 823.8 L1349.6 831.4 L1350.2 822.3 L1350.8 829.1 L1351.4 823.3 L1352 828.9 L1352.5 822.8 L1353.1 830.7 L1353.7 825 L1354 827.8 L1354.6 824.6 L1355.2 827 L1355.7 824 L1356 824.6 L1356.9 823.7 L1357.5 824.4 L1358.4 824.5 L1358.5 826 L1359.1 824 L1360 823.9 L1360 823.5 L1360.9 823.7 L1361.8 823.1 L1362.7 823.9 L1363.6 823.1 L1364.5 823.5 L1365.4 823 L1366.3 823.1 L1367.2 822.4 L1368.1 823 L1369 822.7 L1369.9 823 L1370 822.6 L1370.9 822.8 L1371.8 822.4 L1372.7 822.9 L1373.6 822.3 L1374.5 822.9 L1375.4 822.3 L1376.3 822.5 L1377.2 822.1 L1378.1 822.5 L1379 822.2 L1379.9 822.5 L1380.8 822 L1381.7 822.6 L1382.6 822.1 L1383.5 822.5 L1384.4 821.8 L1385.3 822.3 L1386.2 822 L1387.1 822.5 L1388 821.8 L1388.9 822.1 L1389.8 821.8 L1390.7 822.4 L1391.6 821.8 L1392.5 822 L1393.4 821.4 L1394.3 822.2 L1395.2 821.5 L1396 822 L1396.9 821.4 L1397.8 821.7 L1398.4 819.4 L1399 822.7 L1399 820.4 L1399.6 821.3 L1400.2 819.6 L1400.7 822.3 L1401.3 819 L1401.9 821.3 L1402.5 816.8 L1403.1 820.8 L1403.6 816 L1404.2 819.5 L1404.8 817.1 L1405.4 818.7 L1406 815.1 L1406 818.5 L1406.6 814.4 L1407.2 818.7 L1407.7 815.9 L1408.3 817.8 L1408.9 815.9 L1409 816.3 L1409.9 815.8 L1410.8 816.4 L1411.7 815.3 L1412.6 816.2 L1413.5 815.7 L1414 816 L1414.9 815.5 L1415.8 816 L1416.7 815.6 L1417.6 815.9 L1418.5 815.5 L1419.4 816 L1420.3 815.6 L1421.2 815.7 L1422.1 815.6 L1423 815.8 L1423.9 815.6 L1424.8 815.7 L1425.7 815.5 L1426.6 815.7 L1427.5 815.5 L1428.4 815.9 L1429.3 815.6 L1430.2 815.7 L1431.1 815.5 L1432 815.8 L1432.9 815.6 L1433.8 815.7 L1434.7 815.4 L1435.6 815.8 L1436 815.6 L1436.9 815.6 L1437.8 814.9 L1438.7 816.7 L1439.3 813.4 L1439.9 815.7 L1440 814 L1440.6 815.9 L1441.2 812.7 L1441.7 815.6 L1442.3 812.5 L1442.9 817.7 L1443.5 811.5 L1444.1 815.2 L1444.6 812.8 L1445.2 815.2 L1445.8 810.7 L1446.4 816.5 L1447 810.8 L1447 815.9 L1447.6 811.1 L1448.2 816.4 L1448.7 810 L1449.3 817.6 L1449.9 809.4 L1450.5 816.8 L1451.1 808.4 L1451.6 816.8 L1452.2 809.1 L1452.8 813.9 L1453.4 809.1 L1454 816.5 L1454.5 809.9 L1455.1 816.4 L1455.7 810.4 L1456 816.6 L1456.6 809.7 L1457.2 814.1 L1457.7 810.2 L1458.3 812 L1458.9 810.1 L1459 811.5 L1459.6 810.3 L1460.2 811.6 L1460.7 809.1 L1461.3 811.8 L1461.9 809.2 L1462.5 811.8 L1463.1 809.3 L1463.6 811.6 L1464.5 809.9 L1465.4 810.7 L1466.3 810.3 L1467.2 810.7 L1468.1 810.3 L1469 810.5 L1469.9 809.7 L1470 811 L1470.9 810.1 L1471.8 810.7 L1472.7 809.7 L1473.6 810.8 L1474.5 809.7 L1475.4 810.4 L1476.3 810 L1477.2 810.6 L1478.1 809.9 L1479 810.3 L1479.9 809.8 L1480.8 810.2 L1481.7 809.3 L1482.6 810 L1483.5 809.6 L1484.4 810.1 L1485.3 809.6 L1486.2 810.3 L1487.1 809.6 L1488 810.2 L1488.9 809.4 L1489 810.2 L1489.9 809.6 L1490.8 809.7 L1491.7 809.4 L1492.6 810.1 L1493.5 809.3 L1494.4 809.6 L1495.3 808.8 L1496 810.2 L1496.9 809.1 L1497.8 809.6 L1498.7 808.8 L1499.6 809.8 L1500.5 808.7 L1501.4 809.9 L1502.3 809.1 L1503.2 809.5 L1504.1 809.1 L1505 809.8 L1505.9 809.1 L1506.8 809.8 L1507.4 807.8 L1508 810.2 L1508.5 808.3 L1509.1 810.3 L1509.7 808.3 L1510.3 810.3 L1510.9 808.6 L1511.4 809.7 L1512 808.8 L1512.6 809.7 L1513.2 808.5 L1513.8 809.7 L1514.3 808.7 L1514.9 810.1 L1515.5 807.6 L1516.1 810.3 L1516.7 808.6 L1517 810.5 L1517.6 808.2 L1518.2 809.7 L1518.7 807.1 L1519 810.4 L1519.6 805.6 L1520.2 810.5 L1520.7 805.2 L1521.3 809.6 L1521.9 804 L1522.5 810.1 L1523.1 804.2 L1523.6 809.4 L1524 804 L1524.6 808.2 L1525.2 803.4 L1525.7 805.8 L1526 803.6 L1526.9 804.1 L1527.8 803.7 L1528.7 803.9 L1529.6 803.1 L1530.5 803.7 L1531.4 803.2 L1532 803.8 L1532.9 803.1 L1533.8 803.5 L1534.7 803.3 L1535.6 803.4 L1536.5 803 L1537.4 803.4 L1538 803.2 L1538.9 803.4 L1539.8 803.2 L1540.7 803.3 L1541.6 803.2 L1542.5 803.4 L1543.4 803.2 L1544.3 803.5 L1545.2 803.2 L1546.1 803.4 L1547 803.2 L1547.9 803.4 L1548.8 803.2 L1549.7 803.3 L1550.6 803.1 L1551.5 803.2 L1552.4 803.2 L1553.3 803.4 L1554.2 803.1 L1555.1 803.2 L1556 803 L1556.9 803.2 L1557.8 803.1 L1558.7 803.2 L1559.6 803.1 L1560.5 803.2 L1561.4 803 L1562.3 803.2 L1563.2 802.9 L1564.1 803.2 L1565 803 L1565.9 803.3 L1566.8 803.1 L1567.7 803.1 L1568.6 803 L1569.5 803.1 L1570.4 803 L1571.3 803.2 L1572.2 803 L1573.1 803.1 L1574 803 L1574.9 803.1 L1575.8 803 L1576.7 803.1 L1577.6 803 L1578.5 803.1 L1579.4 803 L1580.3 803.1 L1581.2 802.8 L1582.1 803.1 L1583 803 L1583.9 803 L1584.8 802.4 L1585 803.1 L1585.9 802.1 L1586.8 803.4 L1587.7 801.9 L1588.6 802.6 L1589.5 801.5 L1590.4 802.7 L1591.3 801.7 L1591.9 802.7 L1592.5 800.8 L1593 802.7 L1593.6 801.6 L1594.2 802.7 L1594.8 800.3 L1595.4 802.8 L1595.9 800.5 L1596.5 802.3 L1597.1 800.8 L1597.7 802.5 L1598.3 801 L1598.8 803 L1599.4 800.7 L1600 802.1 L1600.6 799.3 L1601.2 802.4 L1601.7 800.4 L1602.3 801.6 L1602.9 799.5 L1603.5 802 L1604.1 800.1 L1604.6 801.6 L1605.2 798.8 L1605.8 801.5 L1606.4 799.4 L1607 801.2 L1607.5 798.5 L1608.1 801.3 L1608.7 799 L1609.3 801.4 L1609.9 797.3 L1610.4 801 L1611 797.2 L1611.6 800.1 L1612 796.9 L1612.6 800.2 L1613 796.4 L1613.6 802 L1614.2 793.5 L1614.7 800.1 L1615.3 796.6 L1615.9 800 L1616.5 796 L1617.1 800.1 L1617.6 796.8 L1618.2 802.1 L1618.8 795.7 L1619 802.9 L1619.6 796.8 L1620 799.2 L1620.6 797.5 L1621.2 799.6 L1621.7 797.3 L1622.3 798.7 L1622.9 796.9 L1623.5 799.4 L1624.1 796.9 L1624.6 799.3 L1625.2 796.7 L1625.8 798.2 L1626.4 796.4 L1627 798.1 L1627.5 796.6 L1628.4 797.8 L1629.3 797.3 L1630.2 798.3 L1631.1 797.2 L1632 797.6 L1632.9 797.1 L1633.8 797.7 L1634.7 797.1 L1635.6 797.3 L1636.5 797 L1637.4 797.6 L1638 796.9 L1638.9 797.2 L1639.8 796.9 L1640 796.9 L1640.9 796.8 L1641.8 797 L1642.7 796.9 L1643.6 796.9 L1644.5 796.9 L1645.4 797 L1646.3 796.9 L1647.2 796.9 L1648.1 796.8 L1649 796.9 L1649.9 796.7 L1650.8 796.9 L1651.7 796.8 L1652.6 796.9 L1653.5 796.8 L1654.4 796.9 L1655.3 796.8 L1656.2 797 L1657.1 796.8 L1658 797 L1658.9 796.7 L1659.8 796.9 L1660.7 796.7 L1661.6 796.9 L1662.5 796.8 L1663.4 796.9 L1664.3 796.8 L1665.2 796.8 L1666.1 796.8 L1667 796.8 L1667.9 796.7 L1668.8 796.9 L1669.7 796.7 L1670.6 796.8 L1671.5 796.7 L1672.4 796.9 L1673.3 796.7 L1674.2 796.8 L1675.1 796.8 L1676 796.8 L1676.9 796.7 L1677.8 796.8 L1678.7 796.7 L1679.6 796.9 L1680.5 796.6 L1681.4 796.8 L1682.3 796.7 L1683.2 796.9 L1684.1 796.7 L1685 796.8 L1685.9 796.7 L1686.8 796.8 L1687.7 796.7 L1688.6 796.8 L1689.5 796.7 L1690.4 796.8 L1691.3 796.7 L1692.2 796.8 L1693.1 796.6 L1694 796.8 L1694.9 796.6 L1695.8 796.8 L1696 796.7 L1696.9 797.5 L1697.5 794.7 L1698 799 L1698.6 794.2 L1699.2 797.7 L1699.7 793.1 L1700.3 799.3 L1700.9 795.2 L1701.5 798.2 L1702.1 793 L1702.6 797.7 L1703.2 794.8 L1703.8 799.9 L1704.4 793.2 L1705 797.7 L1705.5 793.8 L1706.1 798 L1706.7 794 L1707.3 799.3 L1707.9 795.3 L1708.4 797.7 L1709 795.1 L1709.6 797.8 L1710.2 795.4 L1710.8 797.6 L1711.3 794.7 L1711.9 798.2 L1712.5 795.3 L1713.1 798.7 L1713.7 792.8 L1714.2 798.7 L1714.8 794.7 L1715.4 799.1 L1716 794.5 L1716.6 797.6 L1717.1 794.3 L1717.7 797.4 L1718.3 793.7 L1718.9 797.6 L1719.5 794.6 L1720 800.2 L1720.6 793.3 L1721.2 799.6 L1721.8 793.7 L1722.4 798.9 L1722.9 793.5 L1723.5 800.2 L1724.1 794.9 L1724.7 799.4 L1725.3 794.7 L1725.8 797.8 L1726 793 L1726.6 797.9 L1727 789.6 L1727.6 797.8 L1728.2 790.4 L1728.7 794.1 L1729.3 791.2 L1729.9 793.8 L1730.5 789.1 L1731 792.1 L1731.6 790.1 L1732.2 791.4 L1732.7 789.9 L1733.3 791.7 L1733.9 790.2 L1734 790.5 L1734.9 790.2 L1735.8 790.9 L1736.7 789.6 L1737.6 790.6 L1738.5 790.4 L1739.4 791.3 L1740.3 789.8 L1741.2 790.8 L1742.1 790.5 L1743 791 L1743.9 790.6 L1744.8 791 L1745.7 790.6 L1746.6 791 L1747.5 790.8 L1748.4 791.1 L1749 790.9 L1749.9 790.9 L1750.8 790.5 L1751 790.7 L1751.9 790.6 L1752.8 790.8 L1753.7 790.5 L1754.6 790.6 L1755.5 790.5 L1756.4 790.6 L1757.3 790.4 L1758.2 790.7 L1759.1 790.6 L1760 790.6 L1760.9 790.5 L1761.8 790.6 L1762.7 790.4 L1763.6 790.6 L1764.5 790.4 L1765.4 790.7 L1766.3 790.5 L1767.2 790.7 L1768.1 790.5 L1769 790.7 L1769.9 790.4 L1770.8 790.7 L1771.7 790.5 L1772.6 790.6 L1773.5 790.4 L1774.4 790.6 L1775.3 790.5 L1776.2 790.6 L1777.1 790.4 L1778 790.6 L1778.9 790.4 L1779.8 790.6 L1780.7 790.5 L1781.6 790.6 L1782.5 790.4 L1783.4 790.7 L1784.3 790.5 L1785.2 790.7 L1786.1 790.5 L1787 790.6 L1787.9 790.4 L1788.8 790.6 L1789.7 790.4 L1790.6 790.7 L1791.5 790.5 L1792.4 790.6 L1793.3 790.4 L1794.2 790.6 L1795.1 790.5 L1796 790.5 L1796.9 790.4 L1797.8 790.7 L1798.7 790.4 L1799 790.7 L1799.9 790 L1800.8 791 L1801 789.6 L1801.6 791.5 L1802.2 789.6 L1802.7 791.3 L1803.3 789.4 L1803.9 790.5 L1804.5 788.7 L1805.1 790.5 L1805.6 787.6 L1806.2 791.6 L1806.8 788.4 L1807.4 790.3 L1808 788.7 L1808.5 790.7 L1809.1 787.9 L1809.7 790.3 L1810.3 787.2 L1810.9 790.6 L1811.4 786.8 L1812 789.7 L1812.6 788 L1813.2 790.1 L1813.8 787.1 L1814.3 789.7 L1814.9 786.4 L1815 789.6 L1815.6 786.8 L1816.2 789.9 L1816.7 784.7 L1817.3 790.8 L1817.9 784.9 L1818 789.4 L1818.6 782.4 L1819.2 791.5 L1819.7 783.8 L1820.3 788.3 L1820.9 784.4 L1821.5 789.9 L1822.1 784.9 L1822.6 788.1 L1823.2 781.8 L1823.8 791.1 L1824 785.1 L1824.6 789.6 L1825 782.2 L1825.6 789.2 L1826.2 784.6 L1826.7 791.6 L1827.3 781.3 L1827.9 789.8 L1828.5 784.5 L1829.1 789.6 L1829.6 784.5 L1830.2 793 L1830.8 784.6 L1831.4 789.1 L1832 781.3 L1832.5 788.6 L1833.1 784.5 L1833.7 788.4 L1834.3 784.3 L1834.9 790.3 L1835.4 780.9 L1836 788.7 L1836.6 785 L1837 789 L1837.6 784.9 L1838.2 787.8 L1838.7 785.4 L1839.3 787.5 L1839.9 783.1 L1840.5 787.2 L1841.1 785 L1841.6 788.6 L1842.2 783.2 L1842.8 789 L1843.4 784.4 L1844 789.1 L1844.5 783.9 L1845.1 787.2 L1845.7 784.2 L1846.3 788.2 L1846.8 783.4" stroke="#0000FF" stroke-width="1.25" fill="none" stroke-linejoin="round"/>
<path d="M1847.1 606.4V1028.5" stroke="#9b9ba1" stroke-width="1.9" fill="none"/>
<path d="M1274.5 1028.5V606.5H1848V607.1" stroke="#58585e" stroke-width="1.25" fill="none" stroke-linejoin="round"/>
<path d="M1274.5 1025.4H1847.2" stroke="#505056" stroke-width="1.3" fill="none"/>
<path d="M1270.9 648.4H1274.9M1270.9 732.1H1274.9M1270.9 815.9H1274.9M1270.9 899.6H1274.9M1270.9 983.3H1274.9M1272.7 614.9H1274.9M1272.7 631.7H1274.9M1272.7 648.4H1274.9M1272.7 665.1H1274.9M1272.7 681.9H1274.9M1272.7 698.6H1274.9M1272.7 715.4H1274.9M1272.7 732.1H1274.9M1272.7 748.8H1274.9M1272.7 765.6H1274.9M1272.7 782.3H1274.9M1272.7 799.1H1274.9M1272.7 815.8H1274.9M1272.7 832.5H1274.9M1272.7 849.3H1274.9M1272.7 866H1274.9M1272.7 882.8H1274.9M1272.7 899.5H1274.9M1272.7 916.2H1274.9M1272.7 933H1274.9M1272.7 949.7H1274.9M1272.7 966.5H1274.9M1272.7 983.2H1274.9M1272.7 999.9H1274.9M1272.7 1016.7H1274.9M1274.9 1025V1029M1418 1025V1029M1561.1 1025V1029M1704.1 1025V1029M1847.2 1025V1029M1274.9 1025V1027.2M1303.5 1025V1027.2M1332.1 1025V1027.2M1360.7 1025V1027.2M1389.4 1025V1027.2M1418 1025V1027.2M1446.6 1025V1027.2M1475.2 1025V1027.2M1503.8 1025V1027.2M1532.4 1025V1027.2M1561.1 1025V1027.2M1589.7 1025V1027.2M1618.3 1025V1027.2M1646.9 1025V1027.2M1675.5 1025V1027.2M1704.1 1025V1027.2M1732.7 1025V1027.2M1761.4 1025V1027.2M1790 1025V1027.2M1818.6 1025V1027.2M1847.2 1025V1027.2" stroke="#404040" stroke-width="0.9" fill="none"/>
<g font-size="7.2" fill="#222">
<text x="1269.9" y="651.4" text-anchor="end">0.34</text>
<text x="1269.9" y="735.1" text-anchor="end">0.32</text>
<text x="1269.9" y="818.9" text-anchor="end">0.30</text>
<text x="1269.9" y="902.6" text-anchor="end">0.28</text>
<text x="1269.9" y="986.3" text-anchor="end">0.26</text>
<text x="1274.9" y="1038.1" text-anchor="middle">0</text>
<text x="1418" y="1038.1" text-anchor="middle">50</text>
<text x="1561.1" y="1038.1" text-anchor="middle">100</text>
<text x="1704.1" y="1038.1" text-anchor="middle">150</text>
<text x="1847.2" y="1038.1" text-anchor="middle">200</text>
</g>
<rect x="1529.3" y="102.3" width="68.6" height="15.7" fill="#e1e1e1" stroke="#b5b5b5" stroke-width="0.8"/>
<text x="1563.6" y="112.4" font-size="6.8" fill="#222" text-anchor="middle">Secondary X axis</text>
<rect x="1533.3" y="575.5" width="68.7" height="15.7" fill="#e1e1e1" stroke="#b5b5b5" stroke-width="0.8"/>
<text x="1567.6" y="585.6" font-size="6.8" fill="#222" text-anchor="middle">Secondary X axis</text>
<rect x="1850.6" y="306.7" width="15.4" height="67" fill="#e1e1e1" stroke="#b5b5b5" stroke-width="0.8"/>
<text transform="translate(1856 340.2) rotate(90)" font-size="6.6" fill="#222" text-anchor="middle">Secondary Y axis</text>
<rect x="1853.1" y="780.2" width="16.4" height="68" fill="#e1e1e1" stroke="#b5b5b5" stroke-width="0.8"/>
<text transform="translate(1859 814.2) rotate(90)" font-size="6.6" fill="#222" text-anchor="middle">Secondary Y axis</text>
<text transform="translate(1228.3 342.6) rotate(-90)" font-size="8.4" font-weight="bold" fill="#000" stroke="#000" stroke-width="0.3" text-anchor="middle" textLength="52" lengthAdjust="spacingAndGlyphs">Potential/V</text>
<text transform="translate(1233.2 816.4) rotate(-90)" font-size="8.4" font-weight="bold" fill="#000" stroke="#000" stroke-width="0.3" text-anchor="middle" textLength="52" lengthAdjust="spacingAndGlyphs">Potential/V</text>
<text x="1559.5" y="1062" font-size="8.8" font-weight="bold" fill="#000" stroke="#000" stroke-width="0.25" text-anchor="middle" textLength="32" lengthAdjust="spacingAndGlyphs">Time/s</text>
<g font-size="6.6" fill="#8c8c8c"><text x="1231.3" y="1050.3">X: -1.870 E+1 s</text><text x="1231.3" y="1059.3">Y: 3.546 E-1 V</text></g>
<text x="1285" y="185.5" font-size="34.7" fill="#000" textLength="389.5" lengthAdjust="spacingAndGlyphs">First raw data on sensor 2</text>
<text x="1297.5" y="662.8" font-size="34.7" fill="#000" textLength="436.5" lengthAdjust="spacingAndGlyphs">Second raw data on sensor 4</text>
</svg>
</body></html>
